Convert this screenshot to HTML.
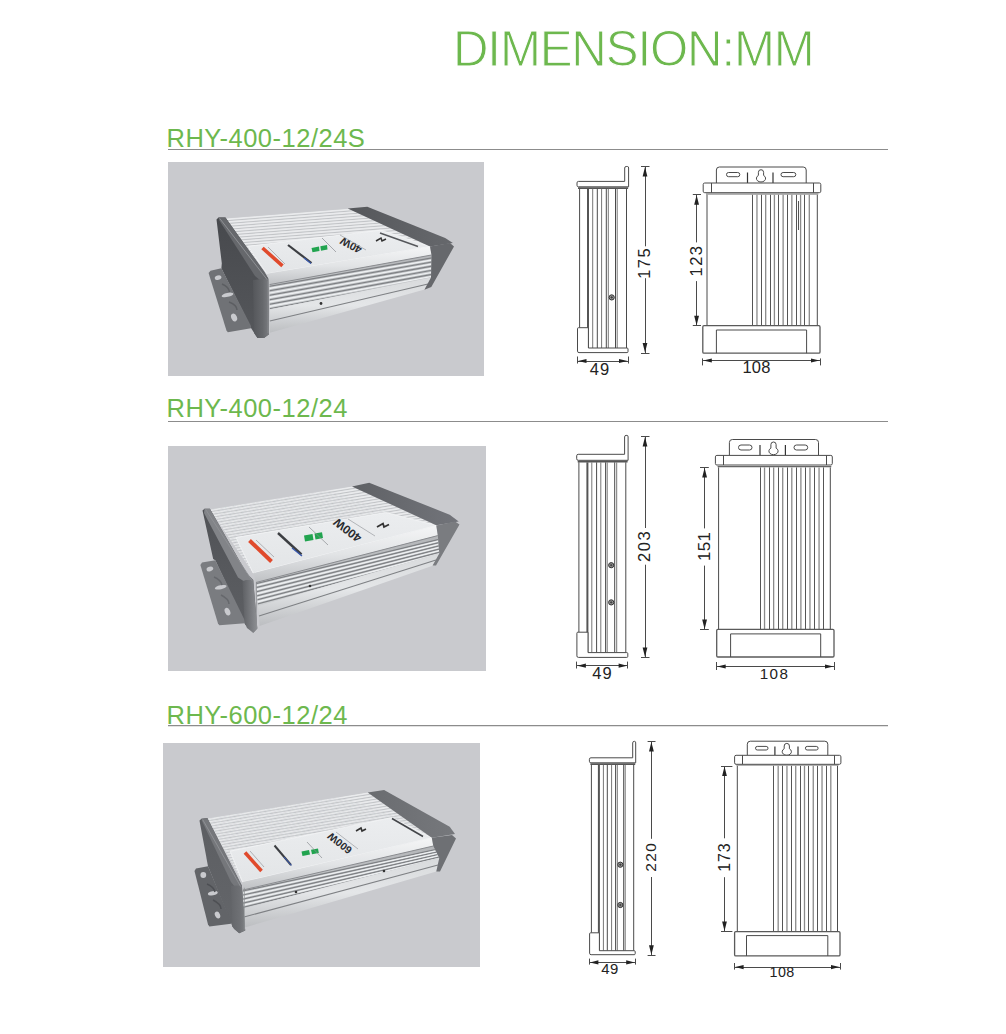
<!DOCTYPE html>
<html><head><meta charset="utf-8"><style>
html,body{margin:0;padding:0;background:#fff;}
body{width:1006px;height:1034px;overflow:hidden;position:relative;font-family:"Liberation Sans",sans-serif;}
svg{position:absolute;left:0;top:0;}
svg text{font-family:"Liberation Sans",sans-serif;}
</style></head><body>
<svg width="1006" height="1034" viewBox="0 0 1006 1034">
<text x="453" y="65.7" font-size="49.2" fill="#6db84e" stroke="#fff" stroke-width="1.0" letter-spacing="-1.15">DIMENSION:MM</text>
<text x="166.5" y="146.5" font-size="25.5" fill="#6db84e" letter-spacing="0.5">RHY-400-12/24S</text>
<line x1="168" y1="149.5" x2="888" y2="149.5" stroke="#8c8c8c" stroke-width="1.2"/>
<text x="166.5" y="417.3" font-size="25.5" fill="#6db84e" letter-spacing="0.5">RHY-400-12/24</text>
<line x1="168" y1="421.5" x2="888" y2="421.5" stroke="#8c8c8c" stroke-width="1.2"/>
<text x="166.5" y="723.6" font-size="25.5" fill="#6db84e" letter-spacing="0.5">RHY-600-12/24</text>
<line x1="168" y1="725.7" x2="888" y2="725.7" stroke="#8c8c8c" stroke-width="1.2"/>
<rect x="168" y="162" width="316" height="214" fill="#c9cace"/>
<rect x="168" y="446" width="318" height="225" fill="#c9cace"/>
<rect x="163" y="743" width="317" height="224" fill="#c9cace"/>
<g>
<polygon points="225.4,218.5 348.0,208.8 430.0,246.5 267.0,273.8" fill="#dfe1e3" />
<clipPath id="cp1"><polygon points="225.4,218.5 348.0,208.8 430.0,246.5 267.0,273.8"/></clipPath>
<g clip-path="url(#cp1)">
<line x1="205.4" y1="218.1" x2="468.0" y2="197.3" stroke="#eaebed" stroke-width="1.5"/>
<line x1="205.4" y1="219.5" x2="468.0" y2="198.8" stroke="#c2c4c7" stroke-width="1.0"/>
<line x1="205.4" y1="221.0" x2="468.0" y2="200.2" stroke="#eaebed" stroke-width="1.5"/>
<line x1="205.4" y1="222.4" x2="468.0" y2="201.7" stroke="#c2c4c7" stroke-width="1.0"/>
<line x1="205.4" y1="223.9" x2="468.0" y2="203.1" stroke="#eaebed" stroke-width="1.5"/>
<line x1="205.4" y1="225.3" x2="468.0" y2="204.6" stroke="#c2c4c7" stroke-width="1.0"/>
<line x1="205.4" y1="226.8" x2="468.0" y2="206.0" stroke="#eaebed" stroke-width="1.5"/>
<line x1="205.4" y1="228.2" x2="468.0" y2="207.5" stroke="#c2c4c7" stroke-width="1.0"/>
<line x1="205.4" y1="229.7" x2="468.0" y2="208.9" stroke="#eaebed" stroke-width="1.5"/>
<line x1="205.4" y1="231.1" x2="468.0" y2="210.4" stroke="#c2c4c7" stroke-width="1.0"/>
<line x1="205.4" y1="232.6" x2="468.0" y2="211.8" stroke="#eaebed" stroke-width="1.5"/>
<line x1="205.4" y1="234.0" x2="468.0" y2="213.3" stroke="#c2c4c7" stroke-width="1.0"/>
<line x1="205.4" y1="235.5" x2="468.0" y2="214.7" stroke="#eaebed" stroke-width="1.5"/>
<line x1="205.4" y1="236.9" x2="468.0" y2="216.2" stroke="#c2c4c7" stroke-width="1.0"/>
<line x1="205.4" y1="238.4" x2="468.0" y2="217.6" stroke="#eaebed" stroke-width="1.5"/>
<line x1="205.4" y1="239.8" x2="468.0" y2="219.1" stroke="#c2c4c7" stroke-width="1.0"/>
<line x1="205.4" y1="241.3" x2="468.0" y2="220.5" stroke="#eaebed" stroke-width="1.5"/>
<line x1="205.4" y1="242.7" x2="468.0" y2="222.0" stroke="#c2c4c7" stroke-width="1.0"/>
<line x1="205.4" y1="244.2" x2="468.0" y2="223.4" stroke="#eaebed" stroke-width="1.5"/>
<line x1="205.4" y1="245.6" x2="468.0" y2="224.9" stroke="#c2c4c7" stroke-width="1.0"/>
<line x1="205.4" y1="247.1" x2="468.0" y2="226.3" stroke="#eaebed" stroke-width="1.5"/>
<line x1="205.4" y1="248.5" x2="468.0" y2="227.8" stroke="#c2c4c7" stroke-width="1.0"/>
<line x1="205.4" y1="250.0" x2="468.0" y2="229.2" stroke="#eaebed" stroke-width="1.5"/>
<line x1="205.4" y1="251.4" x2="468.0" y2="230.7" stroke="#c2c4c7" stroke-width="1.0"/>
<line x1="205.4" y1="252.9" x2="468.0" y2="232.1" stroke="#eaebed" stroke-width="1.5"/>
<line x1="205.4" y1="254.3" x2="468.0" y2="233.6" stroke="#c2c4c7" stroke-width="1.0"/>
<line x1="205.4" y1="255.8" x2="468.0" y2="235.0" stroke="#eaebed" stroke-width="1.5"/>
<line x1="205.4" y1="257.2" x2="468.0" y2="236.5" stroke="#c2c4c7" stroke-width="1.0"/>
<line x1="205.4" y1="258.7" x2="468.0" y2="237.9" stroke="#eaebed" stroke-width="1.5"/>
<line x1="205.4" y1="260.1" x2="468.0" y2="239.4" stroke="#c2c4c7" stroke-width="1.0"/>
<line x1="205.4" y1="261.6" x2="468.0" y2="240.8" stroke="#eaebed" stroke-width="1.5"/>
<line x1="205.4" y1="263.0" x2="468.0" y2="242.3" stroke="#c2c4c7" stroke-width="1.0"/>
<line x1="205.4" y1="264.5" x2="468.0" y2="243.7" stroke="#eaebed" stroke-width="1.5"/>
<line x1="205.4" y1="265.9" x2="468.0" y2="245.2" stroke="#c2c4c7" stroke-width="1.0"/>
<line x1="205.4" y1="267.4" x2="468.0" y2="246.6" stroke="#eaebed" stroke-width="1.5"/>
<line x1="205.4" y1="268.8" x2="468.0" y2="248.1" stroke="#c2c4c7" stroke-width="1.0"/>
<line x1="205.4" y1="270.3" x2="468.0" y2="249.5" stroke="#eaebed" stroke-width="1.5"/>
<line x1="205.4" y1="271.7" x2="468.0" y2="251.0" stroke="#c2c4c7" stroke-width="1.0"/>
<line x1="205.4" y1="273.2" x2="468.0" y2="252.4" stroke="#eaebed" stroke-width="1.5"/>
<line x1="205.4" y1="274.6" x2="468.0" y2="253.9" stroke="#c2c4c7" stroke-width="1.0"/>
<line x1="205.4" y1="276.1" x2="468.0" y2="255.3" stroke="#eaebed" stroke-width="1.5"/>
<line x1="205.4" y1="277.5" x2="468.0" y2="256.8" stroke="#c2c4c7" stroke-width="1.0"/>
<line x1="205.4" y1="279.0" x2="468.0" y2="258.2" stroke="#eaebed" stroke-width="1.5"/>
<line x1="205.4" y1="280.4" x2="468.0" y2="259.7" stroke="#c2c4c7" stroke-width="1.0"/>
<line x1="205.4" y1="281.9" x2="468.0" y2="261.1" stroke="#eaebed" stroke-width="1.5"/>
<line x1="205.4" y1="283.3" x2="468.0" y2="262.6" stroke="#c2c4c7" stroke-width="1.0"/>
<line x1="205.4" y1="284.8" x2="468.0" y2="264.0" stroke="#eaebed" stroke-width="1.5"/>
<line x1="205.4" y1="286.2" x2="468.0" y2="265.5" stroke="#c2c4c7" stroke-width="1.0"/>
<line x1="205.4" y1="287.7" x2="468.0" y2="266.9" stroke="#eaebed" stroke-width="1.5"/>
<line x1="205.4" y1="289.1" x2="468.0" y2="268.4" stroke="#c2c4c7" stroke-width="1.0"/>
<line x1="205.4" y1="290.6" x2="468.0" y2="269.8" stroke="#eaebed" stroke-width="1.5"/>
<line x1="205.4" y1="292.0" x2="468.0" y2="271.3" stroke="#c2c4c7" stroke-width="1.0"/>
<line x1="205.4" y1="293.5" x2="468.0" y2="272.7" stroke="#eaebed" stroke-width="1.5"/>
<line x1="205.4" y1="294.9" x2="468.0" y2="274.2" stroke="#c2c4c7" stroke-width="1.0"/>
<line x1="205.4" y1="296.4" x2="468.0" y2="275.6" stroke="#eaebed" stroke-width="1.5"/>
<line x1="205.4" y1="297.8" x2="468.0" y2="277.1" stroke="#c2c4c7" stroke-width="1.0"/>
<line x1="205.4" y1="299.3" x2="468.0" y2="278.5" stroke="#eaebed" stroke-width="1.5"/>
<line x1="205.4" y1="300.7" x2="468.0" y2="280.0" stroke="#c2c4c7" stroke-width="1.0"/>
<line x1="205.4" y1="302.2" x2="468.0" y2="281.4" stroke="#eaebed" stroke-width="1.5"/>
<line x1="205.4" y1="303.6" x2="468.0" y2="282.9" stroke="#c2c4c7" stroke-width="1.0"/>
<line x1="205.4" y1="305.1" x2="468.0" y2="284.3" stroke="#eaebed" stroke-width="1.5"/>
<line x1="205.4" y1="306.5" x2="468.0" y2="285.8" stroke="#c2c4c7" stroke-width="1.0"/>
<line x1="205.4" y1="308.0" x2="468.0" y2="287.2" stroke="#eaebed" stroke-width="1.5"/>
<line x1="205.4" y1="309.4" x2="468.0" y2="288.7" stroke="#c2c4c7" stroke-width="1.0"/>
<line x1="205.4" y1="310.9" x2="468.0" y2="290.1" stroke="#eaebed" stroke-width="1.5"/>
<line x1="205.4" y1="312.3" x2="468.0" y2="291.6" stroke="#c2c4c7" stroke-width="1.0"/>
<line x1="205.4" y1="313.8" x2="468.0" y2="293.0" stroke="#eaebed" stroke-width="1.5"/>
<line x1="205.4" y1="315.2" x2="468.0" y2="294.5" stroke="#c2c4c7" stroke-width="1.0"/>
<line x1="205.4" y1="316.7" x2="468.0" y2="295.9" stroke="#eaebed" stroke-width="1.5"/>
<line x1="205.4" y1="318.1" x2="468.0" y2="297.4" stroke="#c2c4c7" stroke-width="1.0"/>
<line x1="205.4" y1="319.6" x2="468.0" y2="298.8" stroke="#eaebed" stroke-width="1.5"/>
<line x1="205.4" y1="321.0" x2="468.0" y2="300.3" stroke="#c2c4c7" stroke-width="1.0"/>
<line x1="205.4" y1="322.5" x2="468.0" y2="301.7" stroke="#eaebed" stroke-width="1.5"/>
<line x1="205.4" y1="323.9" x2="468.0" y2="303.2" stroke="#c2c4c7" stroke-width="1.0"/>
<line x1="205.4" y1="325.4" x2="468.0" y2="304.6" stroke="#eaebed" stroke-width="1.5"/>
<line x1="205.4" y1="326.8" x2="468.0" y2="306.1" stroke="#c2c4c7" stroke-width="1.0"/>
<line x1="205.4" y1="328.3" x2="468.0" y2="307.5" stroke="#eaebed" stroke-width="1.5"/>
<line x1="205.4" y1="329.7" x2="468.0" y2="309.0" stroke="#c2c4c7" stroke-width="1.0"/>
<line x1="205.4" y1="331.2" x2="468.0" y2="310.4" stroke="#eaebed" stroke-width="1.5"/>
</g>
<linearGradient id="g2" x1="0" y1="0" x2="0" y2="1"><stop offset="0" stop-color="#ebedef"/><stop offset="1" stop-color="#e3e5e7"/></linearGradient>
<polygon points="248.0,246.3 381.0,230.2 430.0,246.5 267.0,273.8" fill="url(#g2)" stroke="#f4f5f6" stroke-width="0.8"/>
<linearGradient id="g3" x1="0" y1="0" x2="1" y2="0"><stop offset="0" stop-color="#55575b"/><stop offset="1" stop-color="#66686c"/></linearGradient>
<polygon points="347.8,208.5 367.3,206.8 445.2,238.1 452.9,243.0 430.0,246.5" fill="url(#g3)" />
<linearGradient id="g4" x1="0" y1="0" x2="0" y2="1"><stop offset="0" stop-color="#f4f5f6"/><stop offset="0.5" stop-color="#e2e4e6"/><stop offset="1" stop-color="#bfc1c4"/></linearGradient>
<polygon points="267.0,273.8 430.0,246.5 431.5,255.0 269.5,284.6" fill="url(#g4)" />
<linearGradient id="g5" x1="0" y1="0" x2="0" y2="1"><stop offset="0" stop-color="#b4b6b9"/><stop offset="1" stop-color="#cdd0d2"/></linearGradient>
<polygon points="269.5,284.6 431.5,255.0 431.0,277.5 269.8,309.5" fill="url(#g5)" />
<clipPath id="cp6"><polygon points="269.5,284.6 431.5,255.0 431.0,277.5 269.8,309.5"/></clipPath>
<g clip-path="url(#cp6)">
<line x1="265.0" y1="287.0" x2="440.0" y2="256.5" stroke="#7e8084" stroke-width="1.2"/>
<line x1="265.0" y1="289.2" x2="440.0" y2="258.6" stroke="#eef0f2" stroke-width="1.4"/>
<line x1="265.0" y1="291.5" x2="440.0" y2="260.6" stroke="#7e8084" stroke-width="1.2"/>
<line x1="265.0" y1="293.8" x2="440.0" y2="262.6" stroke="#eef0f2" stroke-width="1.4"/>
<line x1="265.0" y1="296.0" x2="440.0" y2="264.7" stroke="#7e8084" stroke-width="1.2"/>
<line x1="265.0" y1="298.2" x2="440.0" y2="266.8" stroke="#eef0f2" stroke-width="1.4"/>
<line x1="265.0" y1="300.5" x2="440.0" y2="268.8" stroke="#7e8084" stroke-width="1.2"/>
<line x1="265.0" y1="302.8" x2="440.0" y2="270.9" stroke="#eef0f2" stroke-width="1.4"/>
<line x1="265.0" y1="305.0" x2="440.0" y2="272.9" stroke="#7e8084" stroke-width="1.2"/>
<line x1="265.0" y1="307.2" x2="440.0" y2="274.9" stroke="#eef0f2" stroke-width="1.4"/>
<line x1="265.0" y1="309.5" x2="440.0" y2="277.0" stroke="#7e8084" stroke-width="1.2"/>
</g>
<line x1="269.5" y1="284.6" x2="431.5" y2="255" stroke="#8a8c90" stroke-width="1"/>
<linearGradient id="g7" x1="0" y1="0" x2="0" y2="1"><stop offset="0" stop-color="#d8dadc"/><stop offset="0.5" stop-color="#e4e6e8"/><stop offset="1" stop-color="#bcbec1"/></linearGradient>
<polygon points="269.8,309.5 431.0,277.5 424.6,289.5 269.8,332.8" fill="url(#g7)" />
<line x1="269.8" y1="321" x2="428" y2="284" stroke="#7e8084" stroke-width="1.1"/>
<polygon points="430.0,246.5 450.0,243.0 454.0,246.5 431.3,287.0 424.4,289.8 431.0,277.5 431.5,255.0" fill="#66686c" />
<linearGradient id="g8" x1="0" y1="0" x2="0" y2="1"><stop offset="0" stop-color="#47494d"/><stop offset="1" stop-color="#55575b"/></linearGradient>
<polygon points="216.5,219.5 218.5,217.6 225.4,217.6 264.0,271.5 268.3,278.8 269.0,334.3 264.0,338.0 257.5,338.0 251.0,328.0 221.4,268.2 221.8,263.2" fill="url(#g8)" />
<polygon points="208.6,273.1 210.5,270.8 221.4,268.2 251.0,326.0 251.0,328.2 227.8,332.3 226.5,330.5" fill="#707276" />
<ellipse cx="218.1" cy="277.7" rx="3.4" ry="2.2" transform="rotate(-15 218.1 277.7)" fill="#c9cace"/>
<ellipse cx="227.5" cy="294.9" rx="6" ry="2" transform="rotate(-12 227.5 294.9)" fill="#c9cace"/>
<ellipse cx="234.1" cy="317.5" rx="2.8" ry="4" transform="rotate(-25 234.1 317.5)" fill="#c9cace"/>
<path d="M222 284 Q229 287 229.5 292" stroke="#5c5e62" stroke-width="1.5" fill="none"/>
<path d="M229 302 Q237 305 237 310" stroke="#5c5e62" stroke-width="1.5" fill="none"/>
<polygon points="218.5,217.6 225.4,217.6 264.0,271.5 268.3,278.8 261.0,281.0 255.0,276.0 219.0,220.0" fill="#66686c" />
<linearGradient id="g9" x1="0" y1="0" x2="1" y2="0"><stop offset="0" stop-color="#55575b"/><stop offset="0.6" stop-color="#66686c"/><stop offset="1" stop-color="#7a7c80"/></linearGradient>
<polygon points="253.0,280.0 261.0,279.0 268.3,278.8 269.0,334.3 264.0,338.0 257.5,338.0 254.0,333.0" fill="url(#g9)" />
<polyline points="219.7,218.4 267.1,279.6" stroke="#8e9094" stroke-width="1" fill="none"/>
<line x1="268.1" y1="280.8" x2="268.1" y2="333.3" stroke="#8e9094" stroke-width="0.8"/>
<line x1="262.5" y1="248" x2="282.5" y2="265.8" stroke="#e04a2c" stroke-width="3.6"/>
<line x1="268" y1="247" x2="285" y2="264" stroke="#8a8c90" stroke-width="0.6"/>
<line x1="288" y1="245" x2="311.5" y2="263" stroke="#3c3e42" stroke-width="2.2"/>
<line x1="304" y1="258" x2="311" y2="263.5" stroke="#3a5ab0" stroke-width="1.2"/>
<polygon points="311.5,248 319,246.5 319.5,251 312.5,252.2" fill="#21a44f"/>
<polygon points="320.3,246.3 327,245 327.5,249.5 321,250.8" fill="#21a44f"/>
<line x1="322" y1="238" x2="336" y2="252" stroke="#8a8c90" stroke-width="0.7"/>
<text x="0" y="0" transform="translate(351 245.5) rotate(208)" text-anchor="middle" dominant-baseline="central" font-size="11" font-weight="bold" fill="#2a2c30">40W</text>
<line x1="340" y1="235" x2="366" y2="250" stroke="#9a9ca0" stroke-width="0.7"/>
<path d="M376 241 l5 -3 l1 3 l4 -2" stroke="#333" stroke-width="1.5" fill="none"/>
<line x1="380" y1="233" x2="418" y2="246.5" stroke="#55575b" stroke-width="1.4"/>
<circle cx="321" cy="303.5" r="1.4" fill="#333"/>
</g>
<g>
<polygon points="209.9,509.5 352.0,486.4 436.3,525.5 253.2,573.1" fill="#dfe1e3" />
<clipPath id="cp10"><polygon points="209.9,509.5 352.0,486.4 436.3,525.5 253.2,573.1"/></clipPath>
<g clip-path="url(#cp10)">
<line x1="189.9" y1="510.8" x2="472.0" y2="464.9" stroke="#eaebed" stroke-width="1.5"/>
<line x1="189.9" y1="512.2" x2="472.0" y2="466.3" stroke="#c2c4c7" stroke-width="1.0"/>
<line x1="189.9" y1="513.7" x2="472.0" y2="467.8" stroke="#eaebed" stroke-width="1.5"/>
<line x1="189.9" y1="515.1" x2="472.0" y2="469.2" stroke="#c2c4c7" stroke-width="1.0"/>
<line x1="189.9" y1="516.6" x2="472.0" y2="470.7" stroke="#eaebed" stroke-width="1.5"/>
<line x1="189.9" y1="518.0" x2="472.0" y2="472.1" stroke="#c2c4c7" stroke-width="1.0"/>
<line x1="189.9" y1="519.5" x2="472.0" y2="473.6" stroke="#eaebed" stroke-width="1.5"/>
<line x1="189.9" y1="520.9" x2="472.0" y2="475.0" stroke="#c2c4c7" stroke-width="1.0"/>
<line x1="189.9" y1="522.4" x2="472.0" y2="476.5" stroke="#eaebed" stroke-width="1.5"/>
<line x1="189.9" y1="523.8" x2="472.0" y2="477.9" stroke="#c2c4c7" stroke-width="1.0"/>
<line x1="189.9" y1="525.3" x2="472.0" y2="479.4" stroke="#eaebed" stroke-width="1.5"/>
<line x1="189.9" y1="526.7" x2="472.0" y2="480.8" stroke="#c2c4c7" stroke-width="1.0"/>
<line x1="189.9" y1="528.2" x2="472.0" y2="482.3" stroke="#eaebed" stroke-width="1.5"/>
<line x1="189.9" y1="529.6" x2="472.0" y2="483.7" stroke="#c2c4c7" stroke-width="1.0"/>
<line x1="189.9" y1="531.1" x2="472.0" y2="485.2" stroke="#eaebed" stroke-width="1.5"/>
<line x1="189.9" y1="532.5" x2="472.0" y2="486.6" stroke="#c2c4c7" stroke-width="1.0"/>
<line x1="189.9" y1="534.0" x2="472.0" y2="488.1" stroke="#eaebed" stroke-width="1.5"/>
<line x1="189.9" y1="535.4" x2="472.0" y2="489.5" stroke="#c2c4c7" stroke-width="1.0"/>
<line x1="189.9" y1="536.9" x2="472.0" y2="491.0" stroke="#eaebed" stroke-width="1.5"/>
<line x1="189.9" y1="538.3" x2="472.0" y2="492.4" stroke="#c2c4c7" stroke-width="1.0"/>
<line x1="189.9" y1="539.8" x2="472.0" y2="493.9" stroke="#eaebed" stroke-width="1.5"/>
<line x1="189.9" y1="541.2" x2="472.0" y2="495.3" stroke="#c2c4c7" stroke-width="1.0"/>
<line x1="189.9" y1="542.7" x2="472.0" y2="496.8" stroke="#eaebed" stroke-width="1.5"/>
<line x1="189.9" y1="544.1" x2="472.0" y2="498.2" stroke="#c2c4c7" stroke-width="1.0"/>
<line x1="189.9" y1="545.6" x2="472.0" y2="499.7" stroke="#eaebed" stroke-width="1.5"/>
<line x1="189.9" y1="547.0" x2="472.0" y2="501.1" stroke="#c2c4c7" stroke-width="1.0"/>
<line x1="189.9" y1="548.5" x2="472.0" y2="502.6" stroke="#eaebed" stroke-width="1.5"/>
<line x1="189.9" y1="549.9" x2="472.0" y2="504.0" stroke="#c2c4c7" stroke-width="1.0"/>
<line x1="189.9" y1="551.4" x2="472.0" y2="505.5" stroke="#eaebed" stroke-width="1.5"/>
<line x1="189.9" y1="552.8" x2="472.0" y2="506.9" stroke="#c2c4c7" stroke-width="1.0"/>
<line x1="189.9" y1="554.3" x2="472.0" y2="508.4" stroke="#eaebed" stroke-width="1.5"/>
<line x1="189.9" y1="555.7" x2="472.0" y2="509.8" stroke="#c2c4c7" stroke-width="1.0"/>
<line x1="189.9" y1="557.2" x2="472.0" y2="511.3" stroke="#eaebed" stroke-width="1.5"/>
<line x1="189.9" y1="558.6" x2="472.0" y2="512.7" stroke="#c2c4c7" stroke-width="1.0"/>
<line x1="189.9" y1="560.1" x2="472.0" y2="514.2" stroke="#eaebed" stroke-width="1.5"/>
<line x1="189.9" y1="561.5" x2="472.0" y2="515.6" stroke="#c2c4c7" stroke-width="1.0"/>
<line x1="189.9" y1="563.0" x2="472.0" y2="517.1" stroke="#eaebed" stroke-width="1.5"/>
<line x1="189.9" y1="564.4" x2="472.0" y2="518.5" stroke="#c2c4c7" stroke-width="1.0"/>
<line x1="189.9" y1="565.9" x2="472.0" y2="520.0" stroke="#eaebed" stroke-width="1.5"/>
<line x1="189.9" y1="567.3" x2="472.0" y2="521.4" stroke="#c2c4c7" stroke-width="1.0"/>
<line x1="189.9" y1="568.8" x2="472.0" y2="522.9" stroke="#eaebed" stroke-width="1.5"/>
<line x1="189.9" y1="570.2" x2="472.0" y2="524.3" stroke="#c2c4c7" stroke-width="1.0"/>
<line x1="189.9" y1="571.7" x2="472.0" y2="525.8" stroke="#eaebed" stroke-width="1.5"/>
<line x1="189.9" y1="573.1" x2="472.0" y2="527.2" stroke="#c2c4c7" stroke-width="1.0"/>
<line x1="189.9" y1="574.6" x2="472.0" y2="528.7" stroke="#eaebed" stroke-width="1.5"/>
<line x1="189.9" y1="576.0" x2="472.0" y2="530.1" stroke="#c2c4c7" stroke-width="1.0"/>
<line x1="189.9" y1="577.5" x2="472.0" y2="531.6" stroke="#eaebed" stroke-width="1.5"/>
<line x1="189.9" y1="578.9" x2="472.0" y2="533.0" stroke="#c2c4c7" stroke-width="1.0"/>
<line x1="189.9" y1="580.4" x2="472.0" y2="534.5" stroke="#eaebed" stroke-width="1.5"/>
<line x1="189.9" y1="581.8" x2="472.0" y2="535.9" stroke="#c2c4c7" stroke-width="1.0"/>
<line x1="189.9" y1="583.3" x2="472.0" y2="537.4" stroke="#eaebed" stroke-width="1.5"/>
<line x1="189.9" y1="584.7" x2="472.0" y2="538.8" stroke="#c2c4c7" stroke-width="1.0"/>
<line x1="189.9" y1="586.2" x2="472.0" y2="540.3" stroke="#eaebed" stroke-width="1.5"/>
<line x1="189.9" y1="587.6" x2="472.0" y2="541.7" stroke="#c2c4c7" stroke-width="1.0"/>
<line x1="189.9" y1="589.1" x2="472.0" y2="543.2" stroke="#eaebed" stroke-width="1.5"/>
<line x1="189.9" y1="590.5" x2="472.0" y2="544.6" stroke="#c2c4c7" stroke-width="1.0"/>
<line x1="189.9" y1="592.0" x2="472.0" y2="546.1" stroke="#eaebed" stroke-width="1.5"/>
<line x1="189.9" y1="593.4" x2="472.0" y2="547.5" stroke="#c2c4c7" stroke-width="1.0"/>
<line x1="189.9" y1="594.9" x2="472.0" y2="549.0" stroke="#eaebed" stroke-width="1.5"/>
<line x1="189.9" y1="596.3" x2="472.0" y2="550.4" stroke="#c2c4c7" stroke-width="1.0"/>
<line x1="189.9" y1="597.8" x2="472.0" y2="551.9" stroke="#eaebed" stroke-width="1.5"/>
<line x1="189.9" y1="599.2" x2="472.0" y2="553.3" stroke="#c2c4c7" stroke-width="1.0"/>
<line x1="189.9" y1="600.7" x2="472.0" y2="554.8" stroke="#eaebed" stroke-width="1.5"/>
<line x1="189.9" y1="602.1" x2="472.0" y2="556.2" stroke="#c2c4c7" stroke-width="1.0"/>
<line x1="189.9" y1="603.6" x2="472.0" y2="557.7" stroke="#eaebed" stroke-width="1.5"/>
<line x1="189.9" y1="605.0" x2="472.0" y2="559.1" stroke="#c2c4c7" stroke-width="1.0"/>
<line x1="189.9" y1="606.5" x2="472.0" y2="560.6" stroke="#eaebed" stroke-width="1.5"/>
<line x1="189.9" y1="607.9" x2="472.0" y2="562.0" stroke="#c2c4c7" stroke-width="1.0"/>
<line x1="189.9" y1="609.4" x2="472.0" y2="563.5" stroke="#eaebed" stroke-width="1.5"/>
<line x1="189.9" y1="610.8" x2="472.0" y2="564.9" stroke="#c2c4c7" stroke-width="1.0"/>
<line x1="189.9" y1="612.3" x2="472.0" y2="566.4" stroke="#eaebed" stroke-width="1.5"/>
<line x1="189.9" y1="613.7" x2="472.0" y2="567.8" stroke="#c2c4c7" stroke-width="1.0"/>
<line x1="189.9" y1="615.2" x2="472.0" y2="569.3" stroke="#eaebed" stroke-width="1.5"/>
<line x1="189.9" y1="616.6" x2="472.0" y2="570.7" stroke="#c2c4c7" stroke-width="1.0"/>
<line x1="189.9" y1="618.1" x2="472.0" y2="572.2" stroke="#eaebed" stroke-width="1.5"/>
<line x1="189.9" y1="619.5" x2="472.0" y2="573.6" stroke="#c2c4c7" stroke-width="1.0"/>
<line x1="189.9" y1="621.0" x2="472.0" y2="575.1" stroke="#eaebed" stroke-width="1.5"/>
<line x1="189.9" y1="622.4" x2="472.0" y2="576.5" stroke="#c2c4c7" stroke-width="1.0"/>
<line x1="189.9" y1="623.9" x2="472.0" y2="578.0" stroke="#eaebed" stroke-width="1.5"/>
<line x1="189.9" y1="625.3" x2="472.0" y2="579.4" stroke="#c2c4c7" stroke-width="1.0"/>
<line x1="189.9" y1="626.8" x2="472.0" y2="580.9" stroke="#eaebed" stroke-width="1.5"/>
<line x1="189.9" y1="628.2" x2="472.0" y2="582.3" stroke="#c2c4c7" stroke-width="1.0"/>
<line x1="189.9" y1="629.7" x2="472.0" y2="583.8" stroke="#eaebed" stroke-width="1.5"/>
<line x1="189.9" y1="631.1" x2="472.0" y2="585.2" stroke="#c2c4c7" stroke-width="1.0"/>
<line x1="189.9" y1="632.6" x2="472.0" y2="586.7" stroke="#eaebed" stroke-width="1.5"/>
<line x1="189.9" y1="442.5" x2="472.0" y2="541.2" stroke="#d6d8da" stroke-width="0.8" opacity="0.7"/>
<line x1="189.9" y1="444.5" x2="472.0" y2="543.3" stroke="#d6d8da" stroke-width="0.8" opacity="0.7"/>
<line x1="189.9" y1="446.6" x2="472.0" y2="545.3" stroke="#d6d8da" stroke-width="0.8" opacity="0.7"/>
<line x1="189.9" y1="448.6" x2="472.0" y2="547.3" stroke="#d6d8da" stroke-width="0.8" opacity="0.7"/>
<line x1="189.9" y1="450.6" x2="472.0" y2="549.4" stroke="#d6d8da" stroke-width="0.8" opacity="0.7"/>
<line x1="189.9" y1="452.6" x2="472.0" y2="551.4" stroke="#d6d8da" stroke-width="0.8" opacity="0.7"/>
<line x1="189.9" y1="454.7" x2="472.0" y2="553.4" stroke="#d6d8da" stroke-width="0.8" opacity="0.7"/>
<line x1="189.9" y1="456.7" x2="472.0" y2="555.4" stroke="#d6d8da" stroke-width="0.8" opacity="0.7"/>
<line x1="189.9" y1="458.7" x2="472.0" y2="557.5" stroke="#d6d8da" stroke-width="0.8" opacity="0.7"/>
<line x1="189.9" y1="460.8" x2="472.0" y2="559.5" stroke="#d6d8da" stroke-width="0.8" opacity="0.7"/>
<line x1="189.9" y1="462.8" x2="472.0" y2="561.5" stroke="#d6d8da" stroke-width="0.8" opacity="0.7"/>
<line x1="189.9" y1="464.8" x2="472.0" y2="563.6" stroke="#d6d8da" stroke-width="0.8" opacity="0.7"/>
<line x1="189.9" y1="466.9" x2="472.0" y2="565.6" stroke="#d6d8da" stroke-width="0.8" opacity="0.7"/>
<line x1="189.9" y1="468.9" x2="472.0" y2="567.6" stroke="#d6d8da" stroke-width="0.8" opacity="0.7"/>
<line x1="189.9" y1="470.9" x2="472.0" y2="569.7" stroke="#d6d8da" stroke-width="0.8" opacity="0.7"/>
<line x1="189.9" y1="472.9" x2="472.0" y2="571.7" stroke="#d6d8da" stroke-width="0.8" opacity="0.7"/>
<line x1="189.9" y1="475.0" x2="472.0" y2="573.7" stroke="#d6d8da" stroke-width="0.8" opacity="0.7"/>
<line x1="189.9" y1="477.0" x2="472.0" y2="575.7" stroke="#d6d8da" stroke-width="0.8" opacity="0.7"/>
<line x1="189.9" y1="479.0" x2="472.0" y2="577.8" stroke="#d6d8da" stroke-width="0.8" opacity="0.7"/>
<line x1="189.9" y1="481.1" x2="472.0" y2="579.8" stroke="#d6d8da" stroke-width="0.8" opacity="0.7"/>
<line x1="189.9" y1="483.1" x2="472.0" y2="581.8" stroke="#d6d8da" stroke-width="0.8" opacity="0.7"/>
<line x1="189.9" y1="485.1" x2="472.0" y2="583.9" stroke="#d6d8da" stroke-width="0.8" opacity="0.7"/>
<line x1="189.9" y1="487.2" x2="472.0" y2="585.9" stroke="#d6d8da" stroke-width="0.8" opacity="0.7"/>
<line x1="189.9" y1="489.2" x2="472.0" y2="587.9" stroke="#d6d8da" stroke-width="0.8" opacity="0.7"/>
<line x1="189.9" y1="491.2" x2="472.0" y2="590.0" stroke="#d6d8da" stroke-width="0.8" opacity="0.7"/>
<line x1="189.9" y1="493.2" x2="472.0" y2="592.0" stroke="#d6d8da" stroke-width="0.8" opacity="0.7"/>
<line x1="189.9" y1="495.3" x2="472.0" y2="594.0" stroke="#d6d8da" stroke-width="0.8" opacity="0.7"/>
<line x1="189.9" y1="497.3" x2="472.0" y2="596.0" stroke="#d6d8da" stroke-width="0.8" opacity="0.7"/>
<line x1="189.9" y1="499.3" x2="472.0" y2="598.1" stroke="#d6d8da" stroke-width="0.8" opacity="0.7"/>
<line x1="189.9" y1="501.4" x2="472.0" y2="600.1" stroke="#d6d8da" stroke-width="0.8" opacity="0.7"/>
<line x1="189.9" y1="503.4" x2="472.0" y2="602.1" stroke="#d6d8da" stroke-width="0.8" opacity="0.7"/>
<line x1="189.9" y1="505.4" x2="472.0" y2="604.2" stroke="#d6d8da" stroke-width="0.8" opacity="0.7"/>
<line x1="189.9" y1="507.5" x2="472.0" y2="606.2" stroke="#d6d8da" stroke-width="0.8" opacity="0.7"/>
<line x1="189.9" y1="509.5" x2="472.0" y2="608.2" stroke="#d6d8da" stroke-width="0.8" opacity="0.7"/>
<line x1="189.9" y1="511.5" x2="472.0" y2="610.3" stroke="#d6d8da" stroke-width="0.8" opacity="0.7"/>
<line x1="189.9" y1="513.5" x2="472.0" y2="612.3" stroke="#d6d8da" stroke-width="0.8" opacity="0.7"/>
<line x1="189.9" y1="515.6" x2="472.0" y2="614.3" stroke="#d6d8da" stroke-width="0.8" opacity="0.7"/>
<line x1="189.9" y1="517.6" x2="472.0" y2="616.3" stroke="#d6d8da" stroke-width="0.8" opacity="0.7"/>
<line x1="189.9" y1="519.6" x2="472.0" y2="618.4" stroke="#d6d8da" stroke-width="0.8" opacity="0.7"/>
<line x1="189.9" y1="521.7" x2="472.0" y2="620.4" stroke="#d6d8da" stroke-width="0.8" opacity="0.7"/>
<line x1="189.9" y1="523.7" x2="472.0" y2="622.4" stroke="#d6d8da" stroke-width="0.8" opacity="0.7"/>
<line x1="189.9" y1="525.7" x2="472.0" y2="624.5" stroke="#d6d8da" stroke-width="0.8" opacity="0.7"/>
<line x1="189.9" y1="527.8" x2="472.0" y2="626.5" stroke="#d6d8da" stroke-width="0.8" opacity="0.7"/>
<line x1="189.9" y1="529.8" x2="472.0" y2="628.5" stroke="#d6d8da" stroke-width="0.8" opacity="0.7"/>
<line x1="189.9" y1="531.8" x2="472.0" y2="630.6" stroke="#d6d8da" stroke-width="0.8" opacity="0.7"/>
<line x1="189.9" y1="533.9" x2="472.0" y2="632.6" stroke="#d6d8da" stroke-width="0.8" opacity="0.7"/>
<line x1="189.9" y1="535.9" x2="472.0" y2="634.6" stroke="#d6d8da" stroke-width="0.8" opacity="0.7"/>
<line x1="189.9" y1="537.9" x2="472.0" y2="636.6" stroke="#d6d8da" stroke-width="0.8" opacity="0.7"/>
<line x1="189.9" y1="539.9" x2="472.0" y2="638.7" stroke="#d6d8da" stroke-width="0.8" opacity="0.7"/>
<line x1="189.9" y1="542.0" x2="472.0" y2="640.7" stroke="#d6d8da" stroke-width="0.8" opacity="0.7"/>
<line x1="189.9" y1="544.0" x2="472.0" y2="642.7" stroke="#d6d8da" stroke-width="0.8" opacity="0.7"/>
<line x1="189.9" y1="546.0" x2="472.0" y2="644.8" stroke="#d6d8da" stroke-width="0.8" opacity="0.7"/>
<line x1="189.9" y1="548.1" x2="472.0" y2="646.8" stroke="#d6d8da" stroke-width="0.8" opacity="0.7"/>
<line x1="189.9" y1="550.1" x2="472.0" y2="648.8" stroke="#d6d8da" stroke-width="0.8" opacity="0.7"/>
<line x1="189.9" y1="552.1" x2="472.0" y2="650.9" stroke="#d6d8da" stroke-width="0.8" opacity="0.7"/>
<line x1="189.9" y1="554.1" x2="472.0" y2="652.9" stroke="#d6d8da" stroke-width="0.8" opacity="0.7"/>
<line x1="189.9" y1="556.2" x2="472.0" y2="654.9" stroke="#d6d8da" stroke-width="0.8" opacity="0.7"/>
<line x1="189.9" y1="558.2" x2="472.0" y2="656.9" stroke="#d6d8da" stroke-width="0.8" opacity="0.7"/>
<line x1="189.9" y1="560.2" x2="472.0" y2="659.0" stroke="#d6d8da" stroke-width="0.8" opacity="0.7"/>
<line x1="189.9" y1="562.3" x2="472.0" y2="661.0" stroke="#d6d8da" stroke-width="0.8" opacity="0.7"/>
<line x1="189.9" y1="564.3" x2="472.0" y2="663.0" stroke="#d6d8da" stroke-width="0.8" opacity="0.7"/>
<line x1="189.9" y1="566.3" x2="472.0" y2="665.1" stroke="#d6d8da" stroke-width="0.8" opacity="0.7"/>
<line x1="189.9" y1="568.4" x2="472.0" y2="667.1" stroke="#d6d8da" stroke-width="0.8" opacity="0.7"/>
<line x1="189.9" y1="570.4" x2="472.0" y2="669.1" stroke="#d6d8da" stroke-width="0.8" opacity="0.7"/>
<line x1="189.9" y1="572.4" x2="472.0" y2="671.2" stroke="#d6d8da" stroke-width="0.8" opacity="0.7"/>
<line x1="189.9" y1="574.5" x2="472.0" y2="673.2" stroke="#d6d8da" stroke-width="0.8" opacity="0.7"/>
<line x1="189.9" y1="576.5" x2="472.0" y2="675.2" stroke="#d6d8da" stroke-width="0.8" opacity="0.7"/>
<line x1="189.9" y1="578.5" x2="472.0" y2="677.2" stroke="#d6d8da" stroke-width="0.8" opacity="0.7"/>
<line x1="189.9" y1="580.5" x2="472.0" y2="679.3" stroke="#d6d8da" stroke-width="0.8" opacity="0.7"/>
<line x1="189.9" y1="582.6" x2="472.0" y2="681.3" stroke="#d6d8da" stroke-width="0.8" opacity="0.7"/>
<line x1="189.9" y1="584.6" x2="472.0" y2="683.3" stroke="#d6d8da" stroke-width="0.8" opacity="0.7"/>
<line x1="189.9" y1="586.6" x2="472.0" y2="685.4" stroke="#d6d8da" stroke-width="0.8" opacity="0.7"/>
<line x1="189.9" y1="588.7" x2="472.0" y2="687.4" stroke="#d6d8da" stroke-width="0.8" opacity="0.7"/>
<line x1="189.9" y1="590.7" x2="472.0" y2="689.4" stroke="#d6d8da" stroke-width="0.8" opacity="0.7"/>
<line x1="189.9" y1="592.7" x2="472.0" y2="691.5" stroke="#d6d8da" stroke-width="0.8" opacity="0.7"/>
<line x1="189.9" y1="594.8" x2="472.0" y2="693.5" stroke="#d6d8da" stroke-width="0.8" opacity="0.7"/>
<line x1="189.9" y1="596.8" x2="472.0" y2="695.5" stroke="#d6d8da" stroke-width="0.8" opacity="0.7"/>
<line x1="189.9" y1="598.8" x2="472.0" y2="697.5" stroke="#d6d8da" stroke-width="0.8" opacity="0.7"/>
<line x1="189.9" y1="600.8" x2="472.0" y2="699.6" stroke="#d6d8da" stroke-width="0.8" opacity="0.7"/>
<line x1="189.9" y1="602.9" x2="472.0" y2="701.6" stroke="#d6d8da" stroke-width="0.8" opacity="0.7"/>
<line x1="189.9" y1="604.9" x2="472.0" y2="703.6" stroke="#d6d8da" stroke-width="0.8" opacity="0.7"/>
<line x1="189.9" y1="606.9" x2="472.0" y2="705.7" stroke="#d6d8da" stroke-width="0.8" opacity="0.7"/>
<line x1="189.9" y1="609.0" x2="472.0" y2="707.7" stroke="#d6d8da" stroke-width="0.8" opacity="0.7"/>
<line x1="189.9" y1="611.0" x2="472.0" y2="709.7" stroke="#d6d8da" stroke-width="0.8" opacity="0.7"/>
<line x1="189.9" y1="613.0" x2="472.0" y2="711.8" stroke="#d6d8da" stroke-width="0.8" opacity="0.7"/>
<line x1="189.9" y1="615.0" x2="472.0" y2="713.8" stroke="#d6d8da" stroke-width="0.8" opacity="0.7"/>
<line x1="189.9" y1="617.1" x2="472.0" y2="715.8" stroke="#d6d8da" stroke-width="0.8" opacity="0.7"/>
<line x1="189.9" y1="619.1" x2="472.0" y2="717.8" stroke="#d6d8da" stroke-width="0.8" opacity="0.7"/>
<line x1="189.9" y1="621.1" x2="472.0" y2="719.9" stroke="#d6d8da" stroke-width="0.8" opacity="0.7"/>
<line x1="189.9" y1="623.2" x2="472.0" y2="721.9" stroke="#d6d8da" stroke-width="0.8" opacity="0.7"/>
<line x1="189.9" y1="625.2" x2="472.0" y2="723.9" stroke="#d6d8da" stroke-width="0.8" opacity="0.7"/>
<line x1="189.9" y1="627.2" x2="472.0" y2="726.0" stroke="#d6d8da" stroke-width="0.8" opacity="0.7"/>
<line x1="189.9" y1="629.3" x2="472.0" y2="728.0" stroke="#d6d8da" stroke-width="0.8" opacity="0.7"/>
<line x1="189.9" y1="631.3" x2="472.0" y2="730.0" stroke="#d6d8da" stroke-width="0.8" opacity="0.7"/>
<line x1="189.9" y1="633.3" x2="472.0" y2="732.1" stroke="#d6d8da" stroke-width="0.8" opacity="0.7"/>
<line x1="189.9" y1="635.4" x2="472.0" y2="734.1" stroke="#d6d8da" stroke-width="0.8" opacity="0.7"/>
<line x1="189.9" y1="637.4" x2="472.0" y2="736.1" stroke="#d6d8da" stroke-width="0.8" opacity="0.7"/>
<line x1="189.9" y1="639.4" x2="472.0" y2="738.1" stroke="#d6d8da" stroke-width="0.8" opacity="0.7"/>
<line x1="189.9" y1="641.4" x2="472.0" y2="740.2" stroke="#d6d8da" stroke-width="0.8" opacity="0.7"/>
<line x1="189.9" y1="643.5" x2="472.0" y2="742.2" stroke="#d6d8da" stroke-width="0.8" opacity="0.7"/>
<line x1="189.9" y1="645.5" x2="472.0" y2="744.2" stroke="#d6d8da" stroke-width="0.8" opacity="0.7"/>
<line x1="189.9" y1="647.5" x2="472.0" y2="746.3" stroke="#d6d8da" stroke-width="0.8" opacity="0.7"/>
<line x1="189.9" y1="649.6" x2="472.0" y2="748.3" stroke="#d6d8da" stroke-width="0.8" opacity="0.7"/>
<line x1="189.9" y1="651.6" x2="472.0" y2="750.3" stroke="#d6d8da" stroke-width="0.8" opacity="0.7"/>
<line x1="189.9" y1="653.6" x2="472.0" y2="752.4" stroke="#d6d8da" stroke-width="0.8" opacity="0.7"/>
<line x1="189.9" y1="655.6" x2="472.0" y2="754.4" stroke="#d6d8da" stroke-width="0.8" opacity="0.7"/>
<line x1="189.9" y1="657.7" x2="472.0" y2="756.4" stroke="#d6d8da" stroke-width="0.8" opacity="0.7"/>
<line x1="189.9" y1="659.7" x2="472.0" y2="758.4" stroke="#d6d8da" stroke-width="0.8" opacity="0.7"/>
<line x1="189.9" y1="661.7" x2="472.0" y2="760.5" stroke="#d6d8da" stroke-width="0.8" opacity="0.7"/>
<line x1="189.9" y1="663.8" x2="472.0" y2="762.5" stroke="#d6d8da" stroke-width="0.8" opacity="0.7"/>
<line x1="189.9" y1="665.8" x2="472.0" y2="764.5" stroke="#d6d8da" stroke-width="0.8" opacity="0.7"/>
<line x1="189.9" y1="667.8" x2="472.0" y2="766.6" stroke="#d6d8da" stroke-width="0.8" opacity="0.7"/>
<line x1="189.9" y1="669.9" x2="472.0" y2="768.6" stroke="#d6d8da" stroke-width="0.8" opacity="0.7"/>
<line x1="189.9" y1="671.9" x2="472.0" y2="770.6" stroke="#d6d8da" stroke-width="0.8" opacity="0.7"/>
<line x1="189.9" y1="673.9" x2="472.0" y2="772.7" stroke="#d6d8da" stroke-width="0.8" opacity="0.7"/>
<line x1="189.9" y1="676.0" x2="472.0" y2="774.7" stroke="#d6d8da" stroke-width="0.8" opacity="0.7"/>
<line x1="189.9" y1="678.0" x2="472.0" y2="776.7" stroke="#d6d8da" stroke-width="0.8" opacity="0.7"/>
<line x1="189.9" y1="680.0" x2="472.0" y2="778.7" stroke="#d6d8da" stroke-width="0.8" opacity="0.7"/>
<line x1="189.9" y1="682.0" x2="472.0" y2="780.8" stroke="#d6d8da" stroke-width="0.8" opacity="0.7"/>
<line x1="189.9" y1="684.1" x2="472.0" y2="782.8" stroke="#d6d8da" stroke-width="0.8" opacity="0.7"/>
<line x1="189.9" y1="686.1" x2="472.0" y2="784.8" stroke="#d6d8da" stroke-width="0.8" opacity="0.7"/>
<line x1="189.9" y1="688.1" x2="472.0" y2="786.9" stroke="#d6d8da" stroke-width="0.8" opacity="0.7"/>
<line x1="189.9" y1="690.2" x2="472.0" y2="788.9" stroke="#d6d8da" stroke-width="0.8" opacity="0.7"/>
<line x1="189.9" y1="692.2" x2="472.0" y2="790.9" stroke="#d6d8da" stroke-width="0.8" opacity="0.7"/>
<line x1="189.9" y1="694.2" x2="472.0" y2="793.0" stroke="#d6d8da" stroke-width="0.8" opacity="0.7"/>
<line x1="189.9" y1="696.2" x2="472.0" y2="795.0" stroke="#d6d8da" stroke-width="0.8" opacity="0.7"/>
<line x1="189.9" y1="698.3" x2="472.0" y2="797.0" stroke="#d6d8da" stroke-width="0.8" opacity="0.7"/>
<line x1="189.9" y1="700.3" x2="472.0" y2="799.0" stroke="#d6d8da" stroke-width="0.8" opacity="0.7"/>
<line x1="189.9" y1="702.3" x2="472.0" y2="801.1" stroke="#d6d8da" stroke-width="0.8" opacity="0.7"/>
<line x1="189.9" y1="704.4" x2="472.0" y2="803.1" stroke="#d6d8da" stroke-width="0.8" opacity="0.7"/>
<line x1="189.9" y1="706.4" x2="472.0" y2="805.1" stroke="#d6d8da" stroke-width="0.8" opacity="0.7"/>
<line x1="189.9" y1="708.4" x2="472.0" y2="807.2" stroke="#d6d8da" stroke-width="0.8" opacity="0.7"/>
<line x1="189.9" y1="710.5" x2="472.0" y2="809.2" stroke="#d6d8da" stroke-width="0.8" opacity="0.7"/>
<line x1="189.9" y1="712.5" x2="472.0" y2="811.2" stroke="#d6d8da" stroke-width="0.8" opacity="0.7"/>
<line x1="189.9" y1="714.5" x2="472.0" y2="813.3" stroke="#d6d8da" stroke-width="0.8" opacity="0.7"/>
<line x1="189.9" y1="716.5" x2="472.0" y2="815.3" stroke="#d6d8da" stroke-width="0.8" opacity="0.7"/>
</g>
<linearGradient id="g11" x1="0" y1="0" x2="0" y2="1"><stop offset="0" stop-color="#ebedef"/><stop offset="1" stop-color="#e3e5e7"/></linearGradient>
<polygon points="236.0,537.5 385.6,512.5 436.3,525.5 253.2,573.1" fill="url(#g11)" stroke="#f4f5f6" stroke-width="0.8"/>
<linearGradient id="g12" x1="0" y1="0" x2="1" y2="0"><stop offset="0" stop-color="#5f6165"/><stop offset="1" stop-color="#72747a"/></linearGradient>
<polygon points="352.0,486.4 369.2,482.7 449.7,514.7 458.7,521.4 436.3,525.2" fill="url(#g12)" />
<linearGradient id="g13" x1="0" y1="0" x2="0" y2="1"><stop offset="0" stop-color="#f4f5f6"/><stop offset="0.5" stop-color="#e2e4e6"/><stop offset="1" stop-color="#bfc1c4"/></linearGradient>
<polygon points="253.2,573.1 436.3,525.5 437.8,535.6 256.0,582.5" fill="url(#g13)" />
<linearGradient id="g14" x1="0" y1="0" x2="0" y2="1"><stop offset="0" stop-color="#b4b6b9"/><stop offset="1" stop-color="#cdd0d2"/></linearGradient>
<polygon points="256.0,582.5 437.8,535.6 439.3,553.5 258.0,606.0" fill="url(#g14)" />
<clipPath id="cp15"><polygon points="256.0,582.5 437.8,535.6 439.3,553.5 258.0,606.0"/></clipPath>
<g clip-path="url(#cp15)">
<line x1="250.0" y1="585.0" x2="445.0" y2="538.0" stroke="#7e8084" stroke-width="1.2"/>
<line x1="250.0" y1="587.1" x2="445.0" y2="539.6" stroke="#eef0f2" stroke-width="1.4"/>
<line x1="250.0" y1="589.2" x2="445.0" y2="541.2" stroke="#7e8084" stroke-width="1.2"/>
<line x1="250.0" y1="591.3" x2="445.0" y2="542.8" stroke="#eef0f2" stroke-width="1.4"/>
<line x1="250.0" y1="593.4" x2="445.0" y2="544.4" stroke="#7e8084" stroke-width="1.2"/>
<line x1="250.0" y1="595.5" x2="445.0" y2="546.0" stroke="#eef0f2" stroke-width="1.4"/>
<line x1="250.0" y1="597.6" x2="445.0" y2="547.6" stroke="#7e8084" stroke-width="1.2"/>
<line x1="250.0" y1="599.7" x2="445.0" y2="549.2" stroke="#eef0f2" stroke-width="1.4"/>
<line x1="250.0" y1="601.8" x2="445.0" y2="550.8" stroke="#7e8084" stroke-width="1.2"/>
<line x1="250.0" y1="603.9" x2="445.0" y2="552.4" stroke="#eef0f2" stroke-width="1.4"/>
<line x1="250.0" y1="606.0" x2="445.0" y2="554.0" stroke="#7e8084" stroke-width="1.2"/>
</g>
<line x1="256" y1="582.5" x2="437.8" y2="535.6" stroke="#8a8c90" stroke-width="1"/>
<linearGradient id="g16" x1="0" y1="0" x2="0" y2="1"><stop offset="0" stop-color="#d8dadc"/><stop offset="0.5" stop-color="#e4e6e8"/><stop offset="1" stop-color="#bcbec1"/></linearGradient>
<polygon points="258.0,606.0 439.3,553.5 433.3,565.4 259.6,626.0" fill="url(#g16)" />
<line x1="259" y1="616" x2="436" y2="560" stroke="#7e8084" stroke-width="1.1"/>
<polygon points="436.3,525.5 455.0,521.5 459.5,524.5 436.0,565.4 432.6,565.4 439.3,553.5 437.8,535.6" fill="#7a7c80" />
<linearGradient id="g17" x1="0" y1="0" x2="0" y2="1"><stop offset="0" stop-color="#505256"/><stop offset="1" stop-color="#5e6064"/></linearGradient>
<polygon points="202.5,510.5 204.5,508.8 209.9,508.8 246.4,573.1 253.2,579.9 257.3,628.6 253.2,632.7 245.1,624.6 215.3,560.2 213.2,558.9" fill="url(#g17)" />
<polygon points="200.4,565.0 202.0,562.5 215.3,560.2 245.1,621.0 245.1,623.2 219.4,625.2 218.0,623.5" fill="#7a7c80" />
<ellipse cx="209.9" cy="569" rx="3.4" ry="2.2" transform="rotate(-15 209.9 569)" fill="#c9cace"/>
<ellipse cx="220.7" cy="587.3" rx="6" ry="2" transform="rotate(-12 220.7 587.3)" fill="#c9cace"/>
<ellipse cx="227.5" cy="611.7" rx="2.6" ry="4" transform="rotate(-25 227.5 611.7)" fill="#c9cace"/>
<path d="M214 577 Q221 580 222 585" stroke="#66686c" stroke-width="1.5" fill="none"/>
<path d="M221 595 Q229 599 229 604" stroke="#66686c" stroke-width="1.5" fill="none"/>
<polygon points="204.5,508.8 209.9,508.8 246.4,573.1 253.2,579.9 245.0,582.0 238.0,577.5 204.0,513.0" fill="#828488" />
<linearGradient id="g18" x1="0" y1="0" x2="1" y2="0"><stop offset="0" stop-color="#5e6064"/><stop offset="0.6" stop-color="#7a7c80"/><stop offset="1" stop-color="#8e9094"/></linearGradient>
<polygon points="242.4,581.2 246.0,580.0 253.2,579.9 257.3,628.6 253.2,632.7 247.0,628.0 244.5,622.0" fill="url(#g18)" />
<polyline points="205.7,509.6 252.0,580.7" stroke="#8e9094" stroke-width="1" fill="none"/>
<line x1="256.4" y1="581.9" x2="256.4" y2="627.6" stroke="#8e9094" stroke-width="0.8"/>
<line x1="249.5" y1="540.5" x2="271.5" y2="561.5" stroke="#e04a2c" stroke-width="4"/>
<line x1="256" y1="540" x2="274" y2="557" stroke="#8a8c90" stroke-width="0.6"/>
<line x1="278" y1="533" x2="301.5" y2="554.5" stroke="#3c3e42" stroke-width="2.4"/>
<line x1="292" y1="548" x2="302" y2="556" stroke="#3a5ab0" stroke-width="1.2"/>
<polygon points="304,535.5 312.5,534 313.5,540 305,541.5" fill="#21a44f"/>
<polygon points="314.5,533.6 322,532.2 323,538 315.5,539.6" fill="#21a44f"/>
<line x1="309" y1="527" x2="328" y2="545" stroke="#8a8c90" stroke-width="0.7"/>
<text x="0" y="0" transform="translate(347.5 530) rotate(217)" text-anchor="middle" dominant-baseline="central" font-size="12" font-weight="bold" fill="#2a2c30">400W</text>
<line x1="348" y1="519" x2="375" y2="536" stroke="#9a9ca0" stroke-width="0.7"/>
<path d="M377 527 l6 -3.5 l1 3.5 l5 -2.5" stroke="#333" stroke-width="1.8" fill="none"/>
<circle cx="310" cy="586" r="1.3" fill="#333"/>
</g>
<g>
<polygon points="207.3,818.6 367.7,792.4 431.8,837.8 242.6,882.1" fill="#dfe1e3" />
<clipPath id="cp19"><polygon points="207.3,818.6 367.7,792.4 431.8,837.8 242.6,882.1"/></clipPath>
<g clip-path="url(#cp19)">
<line x1="187.3" y1="819.9" x2="487.7" y2="770.8" stroke="#eaebed" stroke-width="1.5"/>
<line x1="187.3" y1="821.3" x2="487.7" y2="772.2" stroke="#c2c4c7" stroke-width="1.0"/>
<line x1="187.3" y1="822.8" x2="487.7" y2="773.7" stroke="#eaebed" stroke-width="1.5"/>
<line x1="187.3" y1="824.2" x2="487.7" y2="775.1" stroke="#c2c4c7" stroke-width="1.0"/>
<line x1="187.3" y1="825.7" x2="487.7" y2="776.6" stroke="#eaebed" stroke-width="1.5"/>
<line x1="187.3" y1="827.1" x2="487.7" y2="778.0" stroke="#c2c4c7" stroke-width="1.0"/>
<line x1="187.3" y1="828.6" x2="487.7" y2="779.5" stroke="#eaebed" stroke-width="1.5"/>
<line x1="187.3" y1="830.0" x2="487.7" y2="780.9" stroke="#c2c4c7" stroke-width="1.0"/>
<line x1="187.3" y1="831.5" x2="487.7" y2="782.4" stroke="#eaebed" stroke-width="1.5"/>
<line x1="187.3" y1="832.9" x2="487.7" y2="783.8" stroke="#c2c4c7" stroke-width="1.0"/>
<line x1="187.3" y1="834.4" x2="487.7" y2="785.3" stroke="#eaebed" stroke-width="1.5"/>
<line x1="187.3" y1="835.8" x2="487.7" y2="786.7" stroke="#c2c4c7" stroke-width="1.0"/>
<line x1="187.3" y1="837.3" x2="487.7" y2="788.2" stroke="#eaebed" stroke-width="1.5"/>
<line x1="187.3" y1="838.7" x2="487.7" y2="789.6" stroke="#c2c4c7" stroke-width="1.0"/>
<line x1="187.3" y1="840.2" x2="487.7" y2="791.1" stroke="#eaebed" stroke-width="1.5"/>
<line x1="187.3" y1="841.6" x2="487.7" y2="792.5" stroke="#c2c4c7" stroke-width="1.0"/>
<line x1="187.3" y1="843.1" x2="487.7" y2="794.0" stroke="#eaebed" stroke-width="1.5"/>
<line x1="187.3" y1="844.5" x2="487.7" y2="795.4" stroke="#c2c4c7" stroke-width="1.0"/>
<line x1="187.3" y1="846.0" x2="487.7" y2="796.9" stroke="#eaebed" stroke-width="1.5"/>
<line x1="187.3" y1="847.4" x2="487.7" y2="798.3" stroke="#c2c4c7" stroke-width="1.0"/>
<line x1="187.3" y1="848.9" x2="487.7" y2="799.8" stroke="#eaebed" stroke-width="1.5"/>
<line x1="187.3" y1="850.3" x2="487.7" y2="801.2" stroke="#c2c4c7" stroke-width="1.0"/>
<line x1="187.3" y1="851.8" x2="487.7" y2="802.7" stroke="#eaebed" stroke-width="1.5"/>
<line x1="187.3" y1="853.2" x2="487.7" y2="804.1" stroke="#c2c4c7" stroke-width="1.0"/>
<line x1="187.3" y1="854.7" x2="487.7" y2="805.6" stroke="#eaebed" stroke-width="1.5"/>
<line x1="187.3" y1="856.1" x2="487.7" y2="807.0" stroke="#c2c4c7" stroke-width="1.0"/>
<line x1="187.3" y1="857.6" x2="487.7" y2="808.5" stroke="#eaebed" stroke-width="1.5"/>
<line x1="187.3" y1="859.0" x2="487.7" y2="809.9" stroke="#c2c4c7" stroke-width="1.0"/>
<line x1="187.3" y1="860.5" x2="487.7" y2="811.4" stroke="#eaebed" stroke-width="1.5"/>
<line x1="187.3" y1="861.9" x2="487.7" y2="812.8" stroke="#c2c4c7" stroke-width="1.0"/>
<line x1="187.3" y1="863.4" x2="487.7" y2="814.3" stroke="#eaebed" stroke-width="1.5"/>
<line x1="187.3" y1="864.8" x2="487.7" y2="815.7" stroke="#c2c4c7" stroke-width="1.0"/>
<line x1="187.3" y1="866.3" x2="487.7" y2="817.2" stroke="#eaebed" stroke-width="1.5"/>
<line x1="187.3" y1="867.7" x2="487.7" y2="818.6" stroke="#c2c4c7" stroke-width="1.0"/>
<line x1="187.3" y1="869.2" x2="487.7" y2="820.1" stroke="#eaebed" stroke-width="1.5"/>
<line x1="187.3" y1="870.6" x2="487.7" y2="821.5" stroke="#c2c4c7" stroke-width="1.0"/>
<line x1="187.3" y1="872.1" x2="487.7" y2="823.0" stroke="#eaebed" stroke-width="1.5"/>
<line x1="187.3" y1="873.5" x2="487.7" y2="824.4" stroke="#c2c4c7" stroke-width="1.0"/>
<line x1="187.3" y1="875.0" x2="487.7" y2="825.9" stroke="#eaebed" stroke-width="1.5"/>
<line x1="187.3" y1="876.4" x2="487.7" y2="827.3" stroke="#c2c4c7" stroke-width="1.0"/>
<line x1="187.3" y1="877.9" x2="487.7" y2="828.8" stroke="#eaebed" stroke-width="1.5"/>
<line x1="187.3" y1="879.3" x2="487.7" y2="830.2" stroke="#c2c4c7" stroke-width="1.0"/>
<line x1="187.3" y1="880.8" x2="487.7" y2="831.7" stroke="#eaebed" stroke-width="1.5"/>
<line x1="187.3" y1="882.2" x2="487.7" y2="833.1" stroke="#c2c4c7" stroke-width="1.0"/>
<line x1="187.3" y1="883.7" x2="487.7" y2="834.6" stroke="#eaebed" stroke-width="1.5"/>
<line x1="187.3" y1="885.1" x2="487.7" y2="836.0" stroke="#c2c4c7" stroke-width="1.0"/>
<line x1="187.3" y1="886.6" x2="487.7" y2="837.5" stroke="#eaebed" stroke-width="1.5"/>
<line x1="187.3" y1="888.0" x2="487.7" y2="838.9" stroke="#c2c4c7" stroke-width="1.0"/>
<line x1="187.3" y1="889.5" x2="487.7" y2="840.4" stroke="#eaebed" stroke-width="1.5"/>
<line x1="187.3" y1="890.9" x2="487.7" y2="841.8" stroke="#c2c4c7" stroke-width="1.0"/>
<line x1="187.3" y1="892.4" x2="487.7" y2="843.3" stroke="#eaebed" stroke-width="1.5"/>
<line x1="187.3" y1="893.8" x2="487.7" y2="844.7" stroke="#c2c4c7" stroke-width="1.0"/>
<line x1="187.3" y1="895.3" x2="487.7" y2="846.2" stroke="#eaebed" stroke-width="1.5"/>
<line x1="187.3" y1="896.7" x2="487.7" y2="847.6" stroke="#c2c4c7" stroke-width="1.0"/>
<line x1="187.3" y1="898.2" x2="487.7" y2="849.1" stroke="#eaebed" stroke-width="1.5"/>
<line x1="187.3" y1="899.6" x2="487.7" y2="850.5" stroke="#c2c4c7" stroke-width="1.0"/>
<line x1="187.3" y1="901.1" x2="487.7" y2="852.0" stroke="#eaebed" stroke-width="1.5"/>
<line x1="187.3" y1="902.5" x2="487.7" y2="853.4" stroke="#c2c4c7" stroke-width="1.0"/>
<line x1="187.3" y1="904.0" x2="487.7" y2="854.9" stroke="#eaebed" stroke-width="1.5"/>
<line x1="187.3" y1="905.4" x2="487.7" y2="856.3" stroke="#c2c4c7" stroke-width="1.0"/>
<line x1="187.3" y1="906.9" x2="487.7" y2="857.8" stroke="#eaebed" stroke-width="1.5"/>
<line x1="187.3" y1="908.3" x2="487.7" y2="859.2" stroke="#c2c4c7" stroke-width="1.0"/>
<line x1="187.3" y1="909.8" x2="487.7" y2="860.7" stroke="#eaebed" stroke-width="1.5"/>
<line x1="187.3" y1="911.2" x2="487.7" y2="862.1" stroke="#c2c4c7" stroke-width="1.0"/>
<line x1="187.3" y1="912.7" x2="487.7" y2="863.6" stroke="#eaebed" stroke-width="1.5"/>
<line x1="187.3" y1="914.1" x2="487.7" y2="865.0" stroke="#c2c4c7" stroke-width="1.0"/>
<line x1="187.3" y1="915.6" x2="487.7" y2="866.5" stroke="#eaebed" stroke-width="1.5"/>
<line x1="187.3" y1="917.0" x2="487.7" y2="867.9" stroke="#c2c4c7" stroke-width="1.0"/>
<line x1="187.3" y1="918.5" x2="487.7" y2="869.4" stroke="#eaebed" stroke-width="1.5"/>
<line x1="187.3" y1="919.9" x2="487.7" y2="870.8" stroke="#c2c4c7" stroke-width="1.0"/>
<line x1="187.3" y1="921.4" x2="487.7" y2="872.3" stroke="#eaebed" stroke-width="1.5"/>
<line x1="187.3" y1="922.8" x2="487.7" y2="873.7" stroke="#c2c4c7" stroke-width="1.0"/>
<line x1="187.3" y1="924.3" x2="487.7" y2="875.2" stroke="#eaebed" stroke-width="1.5"/>
<line x1="187.3" y1="925.7" x2="487.7" y2="876.6" stroke="#c2c4c7" stroke-width="1.0"/>
<line x1="187.3" y1="927.2" x2="487.7" y2="878.1" stroke="#eaebed" stroke-width="1.5"/>
<line x1="187.3" y1="928.6" x2="487.7" y2="879.5" stroke="#c2c4c7" stroke-width="1.0"/>
<line x1="187.3" y1="930.1" x2="487.7" y2="881.0" stroke="#eaebed" stroke-width="1.5"/>
<line x1="187.3" y1="931.5" x2="487.7" y2="882.4" stroke="#c2c4c7" stroke-width="1.0"/>
<line x1="187.3" y1="933.0" x2="487.7" y2="883.9" stroke="#eaebed" stroke-width="1.5"/>
<line x1="187.3" y1="934.4" x2="487.7" y2="885.3" stroke="#c2c4c7" stroke-width="1.0"/>
<line x1="187.3" y1="935.9" x2="487.7" y2="886.8" stroke="#eaebed" stroke-width="1.5"/>
<line x1="187.3" y1="937.3" x2="487.7" y2="888.2" stroke="#c2c4c7" stroke-width="1.0"/>
<line x1="187.3" y1="938.8" x2="487.7" y2="889.7" stroke="#eaebed" stroke-width="1.5"/>
<line x1="187.3" y1="940.2" x2="487.7" y2="891.1" stroke="#c2c4c7" stroke-width="1.0"/>
<line x1="187.3" y1="941.7" x2="487.7" y2="892.6" stroke="#eaebed" stroke-width="1.5"/>
<line x1="187.3" y1="752.6" x2="487.7" y2="842.7" stroke="#d6d8da" stroke-width="0.8" opacity="0.7"/>
<line x1="187.3" y1="754.6" x2="487.7" y2="844.8" stroke="#d6d8da" stroke-width="0.8" opacity="0.7"/>
<line x1="187.3" y1="756.7" x2="487.7" y2="846.8" stroke="#d6d8da" stroke-width="0.8" opacity="0.7"/>
<line x1="187.3" y1="758.7" x2="487.7" y2="848.8" stroke="#d6d8da" stroke-width="0.8" opacity="0.7"/>
<line x1="187.3" y1="760.7" x2="487.7" y2="850.8" stroke="#d6d8da" stroke-width="0.8" opacity="0.7"/>
<line x1="187.3" y1="762.8" x2="487.7" y2="852.9" stroke="#d6d8da" stroke-width="0.8" opacity="0.7"/>
<line x1="187.3" y1="764.8" x2="487.7" y2="854.9" stroke="#d6d8da" stroke-width="0.8" opacity="0.7"/>
<line x1="187.3" y1="766.8" x2="487.7" y2="856.9" stroke="#d6d8da" stroke-width="0.8" opacity="0.7"/>
<line x1="187.3" y1="768.8" x2="487.7" y2="859.0" stroke="#d6d8da" stroke-width="0.8" opacity="0.7"/>
<line x1="187.3" y1="770.9" x2="487.7" y2="861.0" stroke="#d6d8da" stroke-width="0.8" opacity="0.7"/>
<line x1="187.3" y1="772.9" x2="487.7" y2="863.0" stroke="#d6d8da" stroke-width="0.8" opacity="0.7"/>
<line x1="187.3" y1="774.9" x2="487.7" y2="865.1" stroke="#d6d8da" stroke-width="0.8" opacity="0.7"/>
<line x1="187.3" y1="777.0" x2="487.7" y2="867.1" stroke="#d6d8da" stroke-width="0.8" opacity="0.7"/>
<line x1="187.3" y1="779.0" x2="487.7" y2="869.1" stroke="#d6d8da" stroke-width="0.8" opacity="0.7"/>
<line x1="187.3" y1="781.0" x2="487.7" y2="871.1" stroke="#d6d8da" stroke-width="0.8" opacity="0.7"/>
<line x1="187.3" y1="783.1" x2="487.7" y2="873.2" stroke="#d6d8da" stroke-width="0.8" opacity="0.7"/>
<line x1="187.3" y1="785.1" x2="487.7" y2="875.2" stroke="#d6d8da" stroke-width="0.8" opacity="0.7"/>
<line x1="187.3" y1="787.1" x2="487.7" y2="877.2" stroke="#d6d8da" stroke-width="0.8" opacity="0.7"/>
<line x1="187.3" y1="789.1" x2="487.7" y2="879.3" stroke="#d6d8da" stroke-width="0.8" opacity="0.7"/>
<line x1="187.3" y1="791.2" x2="487.7" y2="881.3" stroke="#d6d8da" stroke-width="0.8" opacity="0.7"/>
<line x1="187.3" y1="793.2" x2="487.7" y2="883.3" stroke="#d6d8da" stroke-width="0.8" opacity="0.7"/>
<line x1="187.3" y1="795.2" x2="487.7" y2="885.4" stroke="#d6d8da" stroke-width="0.8" opacity="0.7"/>
<line x1="187.3" y1="797.3" x2="487.7" y2="887.4" stroke="#d6d8da" stroke-width="0.8" opacity="0.7"/>
<line x1="187.3" y1="799.3" x2="487.7" y2="889.4" stroke="#d6d8da" stroke-width="0.8" opacity="0.7"/>
<line x1="187.3" y1="801.3" x2="487.7" y2="891.4" stroke="#d6d8da" stroke-width="0.8" opacity="0.7"/>
<line x1="187.3" y1="803.4" x2="487.7" y2="893.5" stroke="#d6d8da" stroke-width="0.8" opacity="0.7"/>
<line x1="187.3" y1="805.4" x2="487.7" y2="895.5" stroke="#d6d8da" stroke-width="0.8" opacity="0.7"/>
<line x1="187.3" y1="807.4" x2="487.7" y2="897.5" stroke="#d6d8da" stroke-width="0.8" opacity="0.7"/>
<line x1="187.3" y1="809.4" x2="487.7" y2="899.6" stroke="#d6d8da" stroke-width="0.8" opacity="0.7"/>
<line x1="187.3" y1="811.5" x2="487.7" y2="901.6" stroke="#d6d8da" stroke-width="0.8" opacity="0.7"/>
<line x1="187.3" y1="813.5" x2="487.7" y2="903.6" stroke="#d6d8da" stroke-width="0.8" opacity="0.7"/>
<line x1="187.3" y1="815.5" x2="487.7" y2="905.6" stroke="#d6d8da" stroke-width="0.8" opacity="0.7"/>
<line x1="187.3" y1="817.6" x2="487.7" y2="907.7" stroke="#d6d8da" stroke-width="0.8" opacity="0.7"/>
<line x1="187.3" y1="819.6" x2="487.7" y2="909.7" stroke="#d6d8da" stroke-width="0.8" opacity="0.7"/>
<line x1="187.3" y1="821.6" x2="487.7" y2="911.7" stroke="#d6d8da" stroke-width="0.8" opacity="0.7"/>
<line x1="187.3" y1="823.6" x2="487.7" y2="913.8" stroke="#d6d8da" stroke-width="0.8" opacity="0.7"/>
<line x1="187.3" y1="825.7" x2="487.7" y2="915.8" stroke="#d6d8da" stroke-width="0.8" opacity="0.7"/>
<line x1="187.3" y1="827.7" x2="487.7" y2="917.8" stroke="#d6d8da" stroke-width="0.8" opacity="0.7"/>
<line x1="187.3" y1="829.7" x2="487.7" y2="919.9" stroke="#d6d8da" stroke-width="0.8" opacity="0.7"/>
<line x1="187.3" y1="831.8" x2="487.7" y2="921.9" stroke="#d6d8da" stroke-width="0.8" opacity="0.7"/>
<line x1="187.3" y1="833.8" x2="487.7" y2="923.9" stroke="#d6d8da" stroke-width="0.8" opacity="0.7"/>
<line x1="187.3" y1="835.8" x2="487.7" y2="926.0" stroke="#d6d8da" stroke-width="0.8" opacity="0.7"/>
<line x1="187.3" y1="837.9" x2="487.7" y2="928.0" stroke="#d6d8da" stroke-width="0.8" opacity="0.7"/>
<line x1="187.3" y1="839.9" x2="487.7" y2="930.0" stroke="#d6d8da" stroke-width="0.8" opacity="0.7"/>
<line x1="187.3" y1="841.9" x2="487.7" y2="932.0" stroke="#d6d8da" stroke-width="0.8" opacity="0.7"/>
<line x1="187.3" y1="844.0" x2="487.7" y2="934.1" stroke="#d6d8da" stroke-width="0.8" opacity="0.7"/>
<line x1="187.3" y1="846.0" x2="487.7" y2="936.1" stroke="#d6d8da" stroke-width="0.8" opacity="0.7"/>
<line x1="187.3" y1="848.0" x2="487.7" y2="938.1" stroke="#d6d8da" stroke-width="0.8" opacity="0.7"/>
<line x1="187.3" y1="850.0" x2="487.7" y2="940.2" stroke="#d6d8da" stroke-width="0.8" opacity="0.7"/>
<line x1="187.3" y1="852.1" x2="487.7" y2="942.2" stroke="#d6d8da" stroke-width="0.8" opacity="0.7"/>
<line x1="187.3" y1="854.1" x2="487.7" y2="944.2" stroke="#d6d8da" stroke-width="0.8" opacity="0.7"/>
<line x1="187.3" y1="856.1" x2="487.7" y2="946.2" stroke="#d6d8da" stroke-width="0.8" opacity="0.7"/>
<line x1="187.3" y1="858.2" x2="487.7" y2="948.3" stroke="#d6d8da" stroke-width="0.8" opacity="0.7"/>
<line x1="187.3" y1="860.2" x2="487.7" y2="950.3" stroke="#d6d8da" stroke-width="0.8" opacity="0.7"/>
<line x1="187.3" y1="862.2" x2="487.7" y2="952.3" stroke="#d6d8da" stroke-width="0.8" opacity="0.7"/>
<line x1="187.3" y1="864.2" x2="487.7" y2="954.4" stroke="#d6d8da" stroke-width="0.8" opacity="0.7"/>
<line x1="187.3" y1="866.3" x2="487.7" y2="956.4" stroke="#d6d8da" stroke-width="0.8" opacity="0.7"/>
<line x1="187.3" y1="868.3" x2="487.7" y2="958.4" stroke="#d6d8da" stroke-width="0.8" opacity="0.7"/>
<line x1="187.3" y1="870.3" x2="487.7" y2="960.5" stroke="#d6d8da" stroke-width="0.8" opacity="0.7"/>
<line x1="187.3" y1="872.4" x2="487.7" y2="962.5" stroke="#d6d8da" stroke-width="0.8" opacity="0.7"/>
<line x1="187.3" y1="874.4" x2="487.7" y2="964.5" stroke="#d6d8da" stroke-width="0.8" opacity="0.7"/>
<line x1="187.3" y1="876.4" x2="487.7" y2="966.6" stroke="#d6d8da" stroke-width="0.8" opacity="0.7"/>
<line x1="187.3" y1="878.5" x2="487.7" y2="968.6" stroke="#d6d8da" stroke-width="0.8" opacity="0.7"/>
<line x1="187.3" y1="880.5" x2="487.7" y2="970.6" stroke="#d6d8da" stroke-width="0.8" opacity="0.7"/>
<line x1="187.3" y1="882.5" x2="487.7" y2="972.6" stroke="#d6d8da" stroke-width="0.8" opacity="0.7"/>
<line x1="187.3" y1="884.5" x2="487.7" y2="974.7" stroke="#d6d8da" stroke-width="0.8" opacity="0.7"/>
<line x1="187.3" y1="886.6" x2="487.7" y2="976.7" stroke="#d6d8da" stroke-width="0.8" opacity="0.7"/>
<line x1="187.3" y1="888.6" x2="487.7" y2="978.7" stroke="#d6d8da" stroke-width="0.8" opacity="0.7"/>
<line x1="187.3" y1="890.6" x2="487.7" y2="980.8" stroke="#d6d8da" stroke-width="0.8" opacity="0.7"/>
<line x1="187.3" y1="892.7" x2="487.7" y2="982.8" stroke="#d6d8da" stroke-width="0.8" opacity="0.7"/>
<line x1="187.3" y1="894.7" x2="487.7" y2="984.8" stroke="#d6d8da" stroke-width="0.8" opacity="0.7"/>
<line x1="187.3" y1="896.7" x2="487.7" y2="986.9" stroke="#d6d8da" stroke-width="0.8" opacity="0.7"/>
<line x1="187.3" y1="898.8" x2="487.7" y2="988.9" stroke="#d6d8da" stroke-width="0.8" opacity="0.7"/>
<line x1="187.3" y1="900.8" x2="487.7" y2="990.9" stroke="#d6d8da" stroke-width="0.8" opacity="0.7"/>
<line x1="187.3" y1="902.8" x2="487.7" y2="992.9" stroke="#d6d8da" stroke-width="0.8" opacity="0.7"/>
<line x1="187.3" y1="904.9" x2="487.7" y2="995.0" stroke="#d6d8da" stroke-width="0.8" opacity="0.7"/>
<line x1="187.3" y1="906.9" x2="487.7" y2="997.0" stroke="#d6d8da" stroke-width="0.8" opacity="0.7"/>
<line x1="187.3" y1="908.9" x2="487.7" y2="999.0" stroke="#d6d8da" stroke-width="0.8" opacity="0.7"/>
<line x1="187.3" y1="910.9" x2="487.7" y2="1001.1" stroke="#d6d8da" stroke-width="0.8" opacity="0.7"/>
<line x1="187.3" y1="913.0" x2="487.7" y2="1003.1" stroke="#d6d8da" stroke-width="0.8" opacity="0.7"/>
<line x1="187.3" y1="915.0" x2="487.7" y2="1005.1" stroke="#d6d8da" stroke-width="0.8" opacity="0.7"/>
<line x1="187.3" y1="917.0" x2="487.7" y2="1007.1" stroke="#d6d8da" stroke-width="0.8" opacity="0.7"/>
<line x1="187.3" y1="919.1" x2="487.7" y2="1009.2" stroke="#d6d8da" stroke-width="0.8" opacity="0.7"/>
<line x1="187.3" y1="921.1" x2="487.7" y2="1011.2" stroke="#d6d8da" stroke-width="0.8" opacity="0.7"/>
<line x1="187.3" y1="923.1" x2="487.7" y2="1013.2" stroke="#d6d8da" stroke-width="0.8" opacity="0.7"/>
<line x1="187.3" y1="925.1" x2="487.7" y2="1015.3" stroke="#d6d8da" stroke-width="0.8" opacity="0.7"/>
<line x1="187.3" y1="927.2" x2="487.7" y2="1017.3" stroke="#d6d8da" stroke-width="0.8" opacity="0.7"/>
<line x1="187.3" y1="929.2" x2="487.7" y2="1019.3" stroke="#d6d8da" stroke-width="0.8" opacity="0.7"/>
<line x1="187.3" y1="931.2" x2="487.7" y2="1021.4" stroke="#d6d8da" stroke-width="0.8" opacity="0.7"/>
<line x1="187.3" y1="933.3" x2="487.7" y2="1023.4" stroke="#d6d8da" stroke-width="0.8" opacity="0.7"/>
<line x1="187.3" y1="935.3" x2="487.7" y2="1025.4" stroke="#d6d8da" stroke-width="0.8" opacity="0.7"/>
<line x1="187.3" y1="937.3" x2="487.7" y2="1027.4" stroke="#d6d8da" stroke-width="0.8" opacity="0.7"/>
<line x1="187.3" y1="939.4" x2="487.7" y2="1029.5" stroke="#d6d8da" stroke-width="0.8" opacity="0.7"/>
<line x1="187.3" y1="941.4" x2="487.7" y2="1031.5" stroke="#d6d8da" stroke-width="0.8" opacity="0.7"/>
<line x1="187.3" y1="943.4" x2="487.7" y2="1033.5" stroke="#d6d8da" stroke-width="0.8" opacity="0.7"/>
<line x1="187.3" y1="945.5" x2="487.7" y2="1035.6" stroke="#d6d8da" stroke-width="0.8" opacity="0.7"/>
<line x1="187.3" y1="947.5" x2="487.7" y2="1037.6" stroke="#d6d8da" stroke-width="0.8" opacity="0.7"/>
<line x1="187.3" y1="949.5" x2="487.7" y2="1039.6" stroke="#d6d8da" stroke-width="0.8" opacity="0.7"/>
<line x1="187.3" y1="951.5" x2="487.7" y2="1041.7" stroke="#d6d8da" stroke-width="0.8" opacity="0.7"/>
<line x1="187.3" y1="953.6" x2="487.7" y2="1043.7" stroke="#d6d8da" stroke-width="0.8" opacity="0.7"/>
<line x1="187.3" y1="955.6" x2="487.7" y2="1045.7" stroke="#d6d8da" stroke-width="0.8" opacity="0.7"/>
<line x1="187.3" y1="957.6" x2="487.7" y2="1047.8" stroke="#d6d8da" stroke-width="0.8" opacity="0.7"/>
<line x1="187.3" y1="959.7" x2="487.7" y2="1049.8" stroke="#d6d8da" stroke-width="0.8" opacity="0.7"/>
<line x1="187.3" y1="961.7" x2="487.7" y2="1051.8" stroke="#d6d8da" stroke-width="0.8" opacity="0.7"/>
<line x1="187.3" y1="963.7" x2="487.7" y2="1053.8" stroke="#d6d8da" stroke-width="0.8" opacity="0.7"/>
<line x1="187.3" y1="965.8" x2="487.7" y2="1055.9" stroke="#d6d8da" stroke-width="0.8" opacity="0.7"/>
<line x1="187.3" y1="967.8" x2="487.7" y2="1057.9" stroke="#d6d8da" stroke-width="0.8" opacity="0.7"/>
<line x1="187.3" y1="969.8" x2="487.7" y2="1059.9" stroke="#d6d8da" stroke-width="0.8" opacity="0.7"/>
<line x1="187.3" y1="971.8" x2="487.7" y2="1062.0" stroke="#d6d8da" stroke-width="0.8" opacity="0.7"/>
<line x1="187.3" y1="973.9" x2="487.7" y2="1064.0" stroke="#d6d8da" stroke-width="0.8" opacity="0.7"/>
<line x1="187.3" y1="975.9" x2="487.7" y2="1066.0" stroke="#d6d8da" stroke-width="0.8" opacity="0.7"/>
<line x1="187.3" y1="977.9" x2="487.7" y2="1068.0" stroke="#d6d8da" stroke-width="0.8" opacity="0.7"/>
<line x1="187.3" y1="980.0" x2="487.7" y2="1070.1" stroke="#d6d8da" stroke-width="0.8" opacity="0.7"/>
<line x1="187.3" y1="982.0" x2="487.7" y2="1072.1" stroke="#d6d8da" stroke-width="0.8" opacity="0.7"/>
<line x1="187.3" y1="984.0" x2="487.7" y2="1074.1" stroke="#d6d8da" stroke-width="0.8" opacity="0.7"/>
<line x1="187.3" y1="986.0" x2="487.7" y2="1076.2" stroke="#d6d8da" stroke-width="0.8" opacity="0.7"/>
<line x1="187.3" y1="988.1" x2="487.7" y2="1078.2" stroke="#d6d8da" stroke-width="0.8" opacity="0.7"/>
<line x1="187.3" y1="990.1" x2="487.7" y2="1080.2" stroke="#d6d8da" stroke-width="0.8" opacity="0.7"/>
<line x1="187.3" y1="992.1" x2="487.7" y2="1082.3" stroke="#d6d8da" stroke-width="0.8" opacity="0.7"/>
<line x1="187.3" y1="994.2" x2="487.7" y2="1084.3" stroke="#d6d8da" stroke-width="0.8" opacity="0.7"/>
<line x1="187.3" y1="996.2" x2="487.7" y2="1086.3" stroke="#d6d8da" stroke-width="0.8" opacity="0.7"/>
<line x1="187.3" y1="998.2" x2="487.7" y2="1088.3" stroke="#d6d8da" stroke-width="0.8" opacity="0.7"/>
<line x1="187.3" y1="1000.3" x2="487.7" y2="1090.4" stroke="#d6d8da" stroke-width="0.8" opacity="0.7"/>
<line x1="187.3" y1="1002.3" x2="487.7" y2="1092.4" stroke="#d6d8da" stroke-width="0.8" opacity="0.7"/>
<line x1="187.3" y1="1004.3" x2="487.7" y2="1094.4" stroke="#d6d8da" stroke-width="0.8" opacity="0.7"/>
<line x1="187.3" y1="1006.4" x2="487.7" y2="1096.5" stroke="#d6d8da" stroke-width="0.8" opacity="0.7"/>
<line x1="187.3" y1="1008.4" x2="487.7" y2="1098.5" stroke="#d6d8da" stroke-width="0.8" opacity="0.7"/>
<line x1="187.3" y1="1010.4" x2="487.7" y2="1100.5" stroke="#d6d8da" stroke-width="0.8" opacity="0.7"/>
<line x1="187.3" y1="1012.4" x2="487.7" y2="1102.6" stroke="#d6d8da" stroke-width="0.8" opacity="0.7"/>
<line x1="187.3" y1="1014.5" x2="487.7" y2="1104.6" stroke="#d6d8da" stroke-width="0.8" opacity="0.7"/>
<line x1="187.3" y1="1016.5" x2="487.7" y2="1106.6" stroke="#d6d8da" stroke-width="0.8" opacity="0.7"/>
<line x1="187.3" y1="1018.5" x2="487.7" y2="1108.6" stroke="#d6d8da" stroke-width="0.8" opacity="0.7"/>
<line x1="187.3" y1="1020.6" x2="487.7" y2="1110.7" stroke="#d6d8da" stroke-width="0.8" opacity="0.7"/>
<line x1="187.3" y1="1022.6" x2="487.7" y2="1112.7" stroke="#d6d8da" stroke-width="0.8" opacity="0.7"/>
<line x1="187.3" y1="1024.6" x2="487.7" y2="1114.7" stroke="#d6d8da" stroke-width="0.8" opacity="0.7"/>
<line x1="187.3" y1="1026.7" x2="487.7" y2="1116.8" stroke="#d6d8da" stroke-width="0.8" opacity="0.7"/>
</g>
<linearGradient id="g20" x1="0" y1="0" x2="0" y2="1"><stop offset="0" stop-color="#ebedef"/><stop offset="1" stop-color="#e3e5e7"/></linearGradient>
<polygon points="230.2,851.2 391.6,817.7 431.8,837.8 242.6,882.1" fill="url(#g20)" stroke="#f4f5f6" stroke-width="0.8"/>
<linearGradient id="g21" x1="0" y1="0" x2="1" y2="0"><stop offset="0" stop-color="#6a6c70"/><stop offset="1" stop-color="#76787c"/></linearGradient>
<polygon points="367.7,792.4 384.1,790.1 449.7,826.7 455.0,834.1 431.8,837.8" fill="url(#g21)" />
<linearGradient id="g22" x1="0" y1="0" x2="0" y2="1"><stop offset="0" stop-color="#f4f5f6"/><stop offset="0.5" stop-color="#e2e4e6"/><stop offset="1" stop-color="#bfc1c4"/></linearGradient>
<polygon points="242.6,882.1 431.8,837.8 433.3,846.0 243.0,890.0" fill="url(#g22)" />
<linearGradient id="g23" x1="0" y1="0" x2="0" y2="1"><stop offset="0" stop-color="#b4b6b9"/><stop offset="1" stop-color="#cdd0d2"/></linearGradient>
<polygon points="243.0,890.0 433.3,846.0 439.3,858.0 243.4,908.4" fill="url(#g23)" />
<clipPath id="cp24"><polygon points="243.0,890.0 433.3,846.0 439.3,858.0 243.4,908.4"/></clipPath>
<g clip-path="url(#cp24)">
<line x1="238.0" y1="892.0" x2="445.0" y2="847.5" stroke="#7e8084" stroke-width="1.2"/>
<line x1="238.0" y1="894.1" x2="445.0" y2="848.9" stroke="#eef0f2" stroke-width="1.4"/>
<line x1="238.0" y1="896.1" x2="445.0" y2="850.2" stroke="#7e8084" stroke-width="1.2"/>
<line x1="238.0" y1="898.2" x2="445.0" y2="851.6" stroke="#eef0f2" stroke-width="1.4"/>
<line x1="238.0" y1="900.2" x2="445.0" y2="853.0" stroke="#7e8084" stroke-width="1.2"/>
<line x1="238.0" y1="902.3" x2="445.0" y2="854.4" stroke="#eef0f2" stroke-width="1.4"/>
<line x1="238.0" y1="904.4" x2="445.0" y2="855.8" stroke="#7e8084" stroke-width="1.2"/>
<line x1="238.0" y1="906.4" x2="445.0" y2="857.1" stroke="#eef0f2" stroke-width="1.4"/>
<line x1="238.0" y1="908.5" x2="445.0" y2="858.5" stroke="#7e8084" stroke-width="1.2"/>
</g>
<line x1="243" y1="890" x2="433.3" y2="846" stroke="#8a8c90" stroke-width="1"/>
<linearGradient id="g25" x1="0" y1="0" x2="0" y2="1"><stop offset="0" stop-color="#d8dadc"/><stop offset="0.5" stop-color="#e4e6e8"/><stop offset="1" stop-color="#bcbec1"/></linearGradient>
<polygon points="243.4,908.4 439.3,858.0 436.3,871.4 244.9,927.5" fill="url(#g25)" />
<line x1="244" y1="917" x2="438" y2="865" stroke="#7e8084" stroke-width="1.1"/>
<polygon points="431.8,837.8 452.0,835.0 456.0,838.5 440.0,871.4 436.3,871.4 439.3,858.0 433.3,846.0" fill="#6e7074" />
<linearGradient id="g26" x1="0" y1="0" x2="0" y2="1"><stop offset="0" stop-color="#5c5e62"/><stop offset="1" stop-color="#64666a"/></linearGradient>
<polygon points="199.5,820.5 201.5,818.8 207.3,818.1 239.2,880.4 241.9,885.8 245.2,930.5 239.2,933.2 232.4,926.4 208.0,866.2" fill="url(#g26)" />
<polygon points="194.5,870.9 196.0,868.5 208.0,866.2 231.0,921.0 231.0,923.7 209.4,926.4 208.0,924.5" fill="#626468" />
<ellipse cx="203.3" cy="875" rx="2.9" ry="2.9" transform="rotate(0 203.3 875)" fill="#c9cace"/>
<ellipse cx="212.8" cy="893.3" rx="5" ry="2" transform="rotate(-12 212.8 893.3)" fill="#c9cace"/>
<ellipse cx="217.5" cy="915" rx="2.5" ry="3.6" transform="rotate(-25 217.5 915)" fill="#c9cace"/>
<path d="M207 884 Q214 887 215 892" stroke="#4e5054" stroke-width="1.5" fill="none"/>
<path d="M213 900 Q221 904 221 909" stroke="#4e5054" stroke-width="1.5" fill="none"/>
<polygon points="201.5,818.8 207.3,818.1 239.2,880.4 241.9,885.8 235.0,887.0 231.0,882.0 202.0,821.0" fill="#75777b" />
<linearGradient id="g27" x1="0" y1="0" x2="1" y2="0"><stop offset="0" stop-color="#64666a"/><stop offset="0.6" stop-color="#6e7074"/><stop offset="1" stop-color="#7e8084"/></linearGradient>
<polygon points="231.0,886.0 236.0,885.5 241.9,885.8 245.2,930.5 239.2,933.2 234.0,929.0 232.4,926.4" fill="url(#g27)" />
<polyline points="202.7,819.6 240.7,886.6" stroke="#8e9094" stroke-width="1" fill="none"/>
<line x1="244.3" y1="887.8" x2="244.3" y2="929.5" stroke="#8e9094" stroke-width="0.8"/>
<line x1="245" y1="852.5" x2="261.5" y2="871" stroke="#e04a2c" stroke-width="3.6"/>
<line x1="250" y1="851" x2="264" y2="867" stroke="#8a8c90" stroke-width="0.6"/>
<line x1="274.5" y1="845.5" x2="291" y2="865" stroke="#3c3e42" stroke-width="2"/>
<line x1="284" y1="857" x2="291.5" y2="865.5" stroke="#3a5ab0" stroke-width="1.1"/>
<polygon points="301.5,851.5 309,850 310,854.5 302.5,856" fill="#21a44f"/>
<polygon points="311,849.8 318,848.5 318.8,853 312,854.3" fill="#21a44f"/>
<line x1="307" y1="842" x2="322" y2="858" stroke="#8a8c90" stroke-width="0.7"/>
<text x="0" y="0" transform="translate(339.5 843.5) rotate(218)" text-anchor="middle" dominant-baseline="central" font-size="10.5" font-weight="bold" fill="#2a2c30">600W</text>
<line x1="336" y1="832" x2="358" y2="849" stroke="#9a9ca0" stroke-width="0.7"/>
<path d="M356 831 l5 -3 l1 3 l4 -2" stroke="#333" stroke-width="1.6" fill="none"/>
<line x1="392" y1="818.5" x2="423" y2="836.5" stroke="#44464a" stroke-width="1.6"/>
<circle cx="384" cy="871" r="1.3" fill="#333"/>
<circle cx="296" cy="892" r="1.3" fill="#333"/>
</g>
<rect x="560" y="504" width="62" height="26" fill="#fff" opacity="0.55"/>
<path d="M578.5 181.4 L624.7 181.4 L624.7 168.0 Q624.7 166.5 626.2 166.5 L627.6 166.5 Q628.6 166.5 628.6 168.0 L628.6 186.8 L578.5 186.8 Q577 186.8 577 185.3 L577 182.9 Q577 181.4 578.5 181.4Z" fill="#fff" stroke="#4a4a4a" stroke-width="1"/>
<line x1="578" y1="188.10000000000002" x2="628.1" y2="188.10000000000002" stroke="#555" stroke-width="1.6"/>
<line x1="579.6" y1="188.8" x2="579.6" y2="327.7" stroke="#4a4a4a" stroke-width="1"/>
<line x1="588" y1="188.8" x2="588" y2="348" stroke="#555" stroke-width="2.0"/>
<line x1="592.7" y1="188.8" x2="592.7" y2="348" stroke="#777" stroke-width="1"/>
<line x1="597.3" y1="188.8" x2="597.3" y2="348" stroke="#4a4a4a" stroke-width="1"/>
<line x1="601.6" y1="188.8" x2="601.6" y2="348" stroke="#777" stroke-width="1"/>
<line x1="606.3" y1="188.8" x2="606.3" y2="348" stroke="#4a4a4a" stroke-width="1"/>
<line x1="608.3" y1="188.8" x2="608.3" y2="348" stroke="#777" stroke-width="1"/>
<line x1="615.5" y1="188.8" x2="615.5" y2="348" stroke="#4a4a4a" stroke-width="1"/>
<line x1="617.2" y1="188.8" x2="617.2" y2="348" stroke="#777" stroke-width="1"/>
<line x1="626.5" y1="188.8" x2="626.5" y2="348" stroke="#4a4a4a" stroke-width="1"/>
<path d="M577.5 351.1 L577.5 328.7 Q577.5 327.7 578.5 327.7 L588.4 327.7 L588.4 348 L627 348 Q628 348 628 349 L628 351.6 Q628 352.6 627 352.6 L579.0 352.6 Q577.5 352.6 577.5 351.1Z" fill="#fff" stroke="#4a4a4a" stroke-width="1"/>
<circle cx="611.7" cy="297.4" r="2.6" fill="#999" stroke="#333" stroke-width="1"/>
<path d="M610.4000000000001 297.4 h2.6 M611.7 296.09999999999997 v2.6" stroke="#333" stroke-width="0.8"/>
<line x1="641" y1="166.5" x2="649.5" y2="166.5" stroke="#4a4a4a" stroke-width="1"/>
<line x1="641" y1="353.5" x2="649.5" y2="353.5" stroke="#4a4a4a" stroke-width="1"/>
<line x1="645.5" y1="166.5" x2="645.5" y2="246.3" stroke="#4a4a4a" stroke-width="1"/>
<line x1="645.5" y1="278.2" x2="645.5" y2="353" stroke="#4a4a4a" stroke-width="1"/>
<path d="M645 167.0 L642.6 176.5 L647.4 176.5Z" fill="#222"/>
<path d="M645 352.5 L642.6 343.0 L647.4 343.0Z" fill="#222"/>
<text x="0" y="0" transform="translate(644.00 262.85) rotate(-90)" text-anchor="middle" dominant-baseline="central" font-size="16.5" letter-spacing="1.5" fill="#222">175</text>
<line x1="577.5" y1="356.5" x2="577.5" y2="363.5" stroke="#4a4a4a" stroke-width="1"/>
<line x1="628.5" y1="356.5" x2="628.5" y2="363.5" stroke="#4a4a4a" stroke-width="1"/>
<line x1="577.5" y1="361.5" x2="628" y2="361.5" stroke="#4a4a4a" stroke-width="1"/>
<path d="M578.0 361 L586.5 358.9 L586.5 363.1Z" fill="#222"/>
<path d="M627.5 361 L619.0 358.9 L619.0 363.1Z" fill="#222"/>
<text x="600.00" y="368.65" text-anchor="middle" dominant-baseline="central" font-size="16.5" letter-spacing="1.0" fill="#222">49</text>
<path d="M578.2 454.3 L624.6 454.3 L624.6 436.9 Q624.6 435.4 626.1 435.4 L627.1 435.4 Q628.1 435.4 628.1 436.9 L628.1 460.3 L578.2 460.3 Q576.7 460.3 576.7 458.8 L576.7 455.8 Q576.7 454.3 578.2 454.3Z" fill="#fff" stroke="#4a4a4a" stroke-width="1"/>
<line x1="577.7" y1="461.6" x2="627.6" y2="461.6" stroke="#555" stroke-width="1.6"/>
<line x1="578.9" y1="462.3" x2="578.9" y2="632.2" stroke="#4a4a4a" stroke-width="1"/>
<line x1="587.4" y1="462.3" x2="587.4" y2="652.6" stroke="#555" stroke-width="2.0"/>
<line x1="591.8" y1="462.3" x2="591.8" y2="652.6" stroke="#777" stroke-width="1"/>
<line x1="596.6" y1="462.3" x2="596.6" y2="652.6" stroke="#4a4a4a" stroke-width="1"/>
<line x1="600.8" y1="462.3" x2="600.8" y2="652.6" stroke="#777" stroke-width="1"/>
<line x1="605.6" y1="462.3" x2="605.6" y2="652.6" stroke="#4a4a4a" stroke-width="1"/>
<line x1="607.2" y1="462.3" x2="607.2" y2="652.6" stroke="#777" stroke-width="1"/>
<line x1="614.7" y1="462.3" x2="614.7" y2="652.6" stroke="#4a4a4a" stroke-width="1"/>
<line x1="616.7" y1="462.3" x2="616.7" y2="652.6" stroke="#777" stroke-width="1"/>
<line x1="625.8" y1="462.3" x2="625.8" y2="652.6" stroke="#4a4a4a" stroke-width="1"/>
<path d="M576.9 655.9 L576.9 633.2 Q576.9 632.2 577.9 632.2 L588 632.2 L588 652.6 L626.8 652.6 Q627.8 652.6 627.8 653.6 L627.8 656.4 Q627.8 657.4 626.8 657.4 L578.4 657.4 Q576.9 657.4 576.9 655.9Z" fill="#fff" stroke="#4a4a4a" stroke-width="1"/>
<circle cx="611.2" cy="565.2" r="2.6" fill="#999" stroke="#333" stroke-width="1"/>
<path d="M609.9000000000001 565.2 h2.6 M611.2 563.9000000000001 v2.6" stroke="#333" stroke-width="0.8"/>
<circle cx="611.2" cy="602.4" r="2.6" fill="#999" stroke="#333" stroke-width="1"/>
<path d="M609.9000000000001 602.4 h2.6 M611.2 601.1 v2.6" stroke="#333" stroke-width="0.8"/>
<line x1="641" y1="436.5" x2="649.5" y2="436.5" stroke="#4a4a4a" stroke-width="1"/>
<line x1="641" y1="657.5" x2="649.5" y2="657.5" stroke="#4a4a4a" stroke-width="1"/>
<line x1="645.5" y1="436.4" x2="645.5" y2="528" stroke="#4a4a4a" stroke-width="1"/>
<line x1="645.5" y1="564.7" x2="645.5" y2="657.6" stroke="#4a4a4a" stroke-width="1"/>
<path d="M645 436.9 L642.6 446.4 L647.4 446.4Z" fill="#222"/>
<path d="M645 657.1 L642.6 647.6 L647.4 647.6Z" fill="#222"/>
<text x="0" y="0" transform="translate(644.00 545.90) rotate(-90)" text-anchor="middle" dominant-baseline="central" font-size="16.5" letter-spacing="1.5" fill="#222">203</text>
<line x1="576.5" y1="661.6" x2="576.5" y2="668.5" stroke="#4a4a4a" stroke-width="1"/>
<line x1="627.5" y1="661.6" x2="627.5" y2="668.5" stroke="#4a4a4a" stroke-width="1"/>
<line x1="576.9" y1="665.5" x2="627.6" y2="665.5" stroke="#4a4a4a" stroke-width="1"/>
<path d="M577.4 665.7 L585.9 663.6 L585.9 667.8000000000001Z" fill="#222"/>
<path d="M627.1 665.7 L618.6 663.6 L618.6 667.8000000000001Z" fill="#222"/>
<text x="602.40" y="673.25" text-anchor="middle" dominant-baseline="central" font-size="16.5" letter-spacing="1.0" fill="#222">49</text>
<path d="M590.9 757.8 L632.7 757.8 L632.7 742.9 Q632.7 741.4 634.2 741.4 L634.7 741.4 Q635.7 741.4 635.7 742.9 L635.7 762.8 L590.9 762.8 Q589.4 762.8 589.4 761.3 L589.4 759.3 Q589.4 757.8 590.9 757.8Z" fill="#fff" stroke="#4a4a4a" stroke-width="1"/>
<line x1="590.4" y1="764.0999999999999" x2="635.2" y2="764.0999999999999" stroke="#555" stroke-width="1.6"/>
<line x1="591.4" y1="764.8" x2="591.4" y2="932.8" stroke="#4a4a4a" stroke-width="1"/>
<line x1="598.9" y1="764.8" x2="598.9" y2="950.7" stroke="#555" stroke-width="2.0"/>
<line x1="603.4" y1="764.8" x2="603.4" y2="950.7" stroke="#777" stroke-width="1"/>
<line x1="607.3" y1="764.8" x2="607.3" y2="950.7" stroke="#4a4a4a" stroke-width="1"/>
<line x1="611.6" y1="764.8" x2="611.6" y2="950.7" stroke="#777" stroke-width="1"/>
<line x1="615.6" y1="764.8" x2="615.6" y2="950.7" stroke="#4a4a4a" stroke-width="1"/>
<line x1="617.3" y1="764.8" x2="617.3" y2="950.7" stroke="#777" stroke-width="1"/>
<line x1="623.7" y1="764.8" x2="623.7" y2="950.7" stroke="#4a4a4a" stroke-width="1"/>
<line x1="625.2" y1="764.8" x2="625.2" y2="950.7" stroke="#777" stroke-width="1"/>
<line x1="633.7" y1="764.8" x2="633.7" y2="950.7" stroke="#4a4a4a" stroke-width="1"/>
<path d="M589.6 953.2 L589.6 933.8 Q589.6 932.8 590.6 932.8 L599.4 932.8 L599.4 950.7 L634.2 950.7 Q635.2 950.7 635.2 951.7 L635.2 953.7 Q635.2 954.7 634.2 954.7 L591.1 954.7 Q589.6 954.7 589.6 953.2Z" fill="#fff" stroke="#4a4a4a" stroke-width="1"/>
<circle cx="620.3" cy="864.7" r="2.6" fill="#999" stroke="#333" stroke-width="1"/>
<path d="M619.0 864.7 h2.6 M620.3 863.4000000000001 v2.6" stroke="#333" stroke-width="0.8"/>
<circle cx="620.3" cy="905" r="2.6" fill="#999" stroke="#333" stroke-width="1"/>
<path d="M619.0 905 h2.6 M620.3 903.7 v2.6" stroke="#333" stroke-width="0.8"/>
<line x1="647.6" y1="741.5" x2="655.5" y2="741.5" stroke="#4a4a4a" stroke-width="1"/>
<line x1="647.6" y1="955.5" x2="655.5" y2="955.5" stroke="#4a4a4a" stroke-width="1"/>
<line x1="651.5" y1="741.4" x2="651.5" y2="838.8" stroke="#4a4a4a" stroke-width="1"/>
<line x1="651.5" y1="877" x2="651.5" y2="955.2" stroke="#4a4a4a" stroke-width="1"/>
<path d="M651.4 741.9 L649.0 751.4 L653.8 751.4Z" fill="#222"/>
<path d="M651.4 954.7 L649.0 945.2 L653.8 945.2Z" fill="#222"/>
<text x="0" y="0" transform="translate(650.20 856.80) rotate(-90)" text-anchor="middle" dominant-baseline="central" font-size="15.5" letter-spacing="1.4" fill="#222">220</text>
<line x1="589.5" y1="958.6" x2="589.5" y2="964.6" stroke="#4a4a4a" stroke-width="1"/>
<line x1="635.5" y1="958.6" x2="635.5" y2="964.6" stroke="#4a4a4a" stroke-width="1"/>
<line x1="589.4" y1="962.5" x2="635.2" y2="962.5" stroke="#4a4a4a" stroke-width="1"/>
<path d="M589.9 962.4 L598.4 960.3 L598.4 964.5Z" fill="#222"/>
<path d="M634.7 962.4 L626.2 960.3 L626.2 964.5Z" fill="#222"/>
<text x="609.90" y="969.15" text-anchor="middle" dominant-baseline="central" font-size="14.9" letter-spacing="0.4" fill="#222">49</text>
<path d="M716.4 183 L716.4 170 Q716.4 167 719.4 167 L803.2 167 Q806.2 167 806.2 170 L806.2 183" fill="#fff" stroke="#4a4a4a" stroke-width="1"/>
<rect x="726.5" y="172.5" width="13.299999999999955" height="4.199999999999989" rx="2.0999999999999943" fill="none" stroke="#4a4a4a" stroke-width="1"/>
<rect x="781" y="172.5" width="14.799999999999955" height="4.199999999999989" rx="2.0999999999999943" fill="none" stroke="#4a4a4a" stroke-width="1"/>
<path d="M758.4 175.43 L758.4 172.29999999999998 A2.6 2.6 0 0 1 763.6 172.29999999999998 L763.6 175.43 A4.6 3.6 0 1 1 758.4 175.43Z" fill="#fff" stroke="#4a4a4a" stroke-width="1"/>
<line x1="747.5" y1="172.5" x2="747.5" y2="183" stroke="#333" stroke-width="1.2"/>
<line x1="773" y1="172.5" x2="773" y2="183" stroke="#333" stroke-width="1.2"/>
<rect x="703.2" y="183" width="117.59999999999991" height="9.699999999999989" rx="1.5" fill="#fff" stroke="#4a4a4a" stroke-width="1"/>
<line x1="711.5" y1="183" x2="711.5" y2="192.7" stroke="#4a4a4a" stroke-width="1"/>
<line x1="813.5" y1="183" x2="813.5" y2="192.7" stroke="#4a4a4a" stroke-width="1"/>
<line x1="706" y1="194.0" x2="818.3" y2="194.0" stroke="#666" stroke-width="1.2"/>
<line x1="707" y1="194.8" x2="707" y2="325.7" stroke="#4a4a4a" stroke-width="1"/>
<line x1="817.3" y1="194.8" x2="817.3" y2="325.7" stroke="#4a4a4a" stroke-width="1"/>
<line x1="752.5" y1="194.8" x2="752.5" y2="325.7" stroke="#555" stroke-width="1"/>
<line x1="756.96" y1="194.8" x2="756.96" y2="325.7" stroke="#8a8a8a" stroke-width="1.3"/>
<line x1="761.5" y1="194.8" x2="761.5" y2="325.7" stroke="#555" stroke-width="1"/>
<line x1="765.68" y1="194.8" x2="765.68" y2="325.7" stroke="#8a8a8a" stroke-width="1.3"/>
<line x1="770.5" y1="194.8" x2="770.5" y2="325.7" stroke="#555" stroke-width="1"/>
<line x1="774.41" y1="194.8" x2="774.41" y2="325.7" stroke="#8a8a8a" stroke-width="1.3"/>
<line x1="778.5" y1="194.8" x2="778.5" y2="325.7" stroke="#555" stroke-width="1"/>
<line x1="783.13" y1="194.8" x2="783.13" y2="325.7" stroke="#8a8a8a" stroke-width="1.3"/>
<line x1="787.5" y1="194.8" x2="787.5" y2="325.7" stroke="#555" stroke-width="1"/>
<line x1="791.85" y1="194.8" x2="791.85" y2="325.7" stroke="#8a8a8a" stroke-width="1.3"/>
<line x1="796.5" y1="194.8" x2="796.5" y2="325.7" stroke="#555" stroke-width="1"/>
<line x1="800.58" y1="194.8" x2="800.58" y2="325.7" stroke="#8a8a8a" stroke-width="1.3"/>
<line x1="804.5" y1="194.8" x2="804.5" y2="325.7" stroke="#555" stroke-width="1"/>
<line x1="809.3" y1="194.8" x2="809.3" y2="325.7" stroke="#8a8a8a" stroke-width="1.3"/>
<line x1="798.5" y1="201" x2="798.5" y2="230" stroke="#555" stroke-width="1"/>
<rect x="702.8" y="325.7" width="117.20000000000005" height="27.5" rx="1.2" fill="#fff" stroke="#5a5a5a" stroke-width="1.3"/>
<path d="M716.4 353.2 L716.4 330 L806.6 330 L806.6 353.2" fill="none" stroke="#4a4a4a" stroke-width="1"/>
<line x1="692.8" y1="194.5" x2="701" y2="194.5" stroke="#4a4a4a" stroke-width="1"/>
<line x1="692.8" y1="325.5" x2="701" y2="325.5" stroke="#4a4a4a" stroke-width="1"/>
<line x1="696.5" y1="194.8" x2="696.5" y2="242.4" stroke="#4a4a4a" stroke-width="1"/>
<line x1="696.5" y1="281.1" x2="696.5" y2="325.7" stroke="#4a4a4a" stroke-width="1"/>
<path d="M696.6 195.3 L694.2 204.8 L699.0 204.8Z" fill="#222"/>
<path d="M696.6 325.2 L694.2 315.7 L699.0 315.7Z" fill="#222"/>
<text x="0" y="0" transform="translate(696.00 260.50) rotate(-90)" text-anchor="middle" dominant-baseline="central" font-size="16.5" letter-spacing="1.5" fill="#222">123</text>
<line x1="702.5" y1="358.4" x2="702.5" y2="365.4" stroke="#4a4a4a" stroke-width="1"/>
<line x1="820.5" y1="358.4" x2="820.5" y2="365.4" stroke="#4a4a4a" stroke-width="1"/>
<line x1="702.8" y1="360.5" x2="820" y2="360.5" stroke="#4a4a4a" stroke-width="1"/>
<path d="M703.3 360.5 L711.8 358.4 L711.8 362.6Z" fill="#222"/>
<path d="M819.5 360.5 L811.0 358.4 L811.0 362.6Z" fill="#222"/>
<text x="756.60" y="367.00" text-anchor="middle" dominant-baseline="central" font-size="16.5" letter-spacing="0.3" fill="#222">108</text>
<path d="M729.4 455.4 L729.4 442.5 Q729.4 439.5 732.4 439.5 L815.5 439.5 Q818.5 439.5 818.5 442.5 L818.5 455.4" fill="#fff" stroke="#4a4a4a" stroke-width="1"/>
<rect x="738.5" y="445" width="13.5" height="5" rx="2.5" fill="none" stroke="#4a4a4a" stroke-width="1"/>
<rect x="794" y="445" width="13.700000000000045" height="5" rx="2.5" fill="none" stroke="#4a4a4a" stroke-width="1"/>
<path d="M770.9 448.13 L770.9 444.6 A2.6 2.6 0 0 1 776.1 444.6 L776.1 448.13 A4.6 3.6 0 1 1 770.9 448.13Z" fill="#fff" stroke="#4a4a4a" stroke-width="1"/>
<line x1="760" y1="445" x2="760" y2="455.4" stroke="#333" stroke-width="1.2"/>
<line x1="785.4" y1="445" x2="785.4" y2="455.4" stroke="#333" stroke-width="1.2"/>
<rect x="715.4" y="455.4" width="116.89999999999998" height="9.600000000000023" rx="1.5" fill="#fff" stroke="#4a4a4a" stroke-width="1"/>
<line x1="723.5" y1="455.4" x2="723.5" y2="465" stroke="#4a4a4a" stroke-width="1"/>
<line x1="826.5" y1="455.4" x2="826.5" y2="465" stroke="#4a4a4a" stroke-width="1"/>
<line x1="717.6" y1="466.59999999999997" x2="831.3" y2="466.59999999999997" stroke="#666" stroke-width="1.2"/>
<line x1="718.6" y1="467.4" x2="718.6" y2="629.4" stroke="#4a4a4a" stroke-width="1"/>
<line x1="830.3" y1="467.4" x2="830.3" y2="629.4" stroke="#4a4a4a" stroke-width="1"/>
<line x1="760.5" y1="467.4" x2="760.5" y2="629.4" stroke="#555" stroke-width="1"/>
<line x1="764.54" y1="467.4" x2="764.54" y2="629.4" stroke="#8a8a8a" stroke-width="1.3"/>
<line x1="769.5" y1="467.4" x2="769.5" y2="629.4" stroke="#555" stroke-width="1"/>
<line x1="773.63" y1="467.4" x2="773.63" y2="629.4" stroke="#8a8a8a" stroke-width="1.3"/>
<line x1="778.5" y1="467.4" x2="778.5" y2="629.4" stroke="#555" stroke-width="1"/>
<line x1="782.71" y1="467.4" x2="782.71" y2="629.4" stroke="#8a8a8a" stroke-width="1.3"/>
<line x1="787.5" y1="467.4" x2="787.5" y2="629.4" stroke="#555" stroke-width="1"/>
<line x1="791.8" y1="467.4" x2="791.8" y2="629.4" stroke="#8a8a8a" stroke-width="1.3"/>
<line x1="796.5" y1="467.4" x2="796.5" y2="629.4" stroke="#555" stroke-width="1"/>
<line x1="800.89" y1="467.4" x2="800.89" y2="629.4" stroke="#8a8a8a" stroke-width="1.3"/>
<line x1="805.5" y1="467.4" x2="805.5" y2="629.4" stroke="#555" stroke-width="1"/>
<line x1="809.97" y1="467.4" x2="809.97" y2="629.4" stroke="#8a8a8a" stroke-width="1.3"/>
<line x1="814.5" y1="467.4" x2="814.5" y2="629.4" stroke="#555" stroke-width="1"/>
<line x1="819.06" y1="467.4" x2="819.06" y2="629.4" stroke="#8a8a8a" stroke-width="1.3"/>
<line x1="823.5" y1="467.4" x2="823.5" y2="629.4" stroke="#555" stroke-width="1"/>
<rect x="716.7" y="629.4" width="117.29999999999995" height="27.600000000000023" rx="1.2" fill="#fff" stroke="#5a5a5a" stroke-width="1.3"/>
<path d="M730.6 657 L730.6 633.9 L820.7 633.9 L820.7 657" fill="none" stroke="#4a4a4a" stroke-width="1"/>
<line x1="700" y1="467.5" x2="708.8" y2="467.5" stroke="#4a4a4a" stroke-width="1"/>
<line x1="700" y1="629.5" x2="708.8" y2="629.5" stroke="#4a4a4a" stroke-width="1"/>
<line x1="704.5" y1="467.4" x2="704.5" y2="528.4" stroke="#4a4a4a" stroke-width="1"/>
<line x1="704.5" y1="565.6" x2="704.5" y2="629.4" stroke="#4a4a4a" stroke-width="1"/>
<path d="M704.6 467.9 L702.2 477.4 L707.0 477.4Z" fill="#222"/>
<path d="M704.6 628.9 L702.2 619.4 L707.0 619.4Z" fill="#222"/>
<text x="0" y="0" transform="translate(704.60 546.30) rotate(-90)" text-anchor="middle" dominant-baseline="central" font-size="17" letter-spacing="0.3" fill="#222">151</text>
<line x1="716.5" y1="662" x2="716.5" y2="670" stroke="#4a4a4a" stroke-width="1"/>
<line x1="834.5" y1="662" x2="834.5" y2="670" stroke="#4a4a4a" stroke-width="1"/>
<line x1="716.7" y1="666.5" x2="834" y2="666.5" stroke="#4a4a4a" stroke-width="1"/>
<path d="M717.2 666.5 L725.7 664.4 L725.7 668.6Z" fill="#222"/>
<path d="M833.5 666.5 L825.0 664.4 L825.0 668.6Z" fill="#222"/>
<text x="774.60" y="673.25" text-anchor="middle" dominant-baseline="central" font-size="15.2" letter-spacing="1.5" fill="#222">108</text>
<path d="M747.3 755.3 L747.3 744.2 Q747.3 741.2 750.3 741.2 L824.8 741.2 Q827.8 741.2 827.8 744.2 L827.8 755.3" fill="#fff" stroke="#4a4a4a" stroke-width="1"/>
<rect x="755.5" y="746.4" width="12.5" height="3.6000000000000227" rx="1.8000000000000114" fill="none" stroke="#4a4a4a" stroke-width="1"/>
<rect x="805.4" y="746.4" width="12.700000000000045" height="3.6000000000000227" rx="1.8000000000000114" fill="none" stroke="#4a4a4a" stroke-width="1"/>
<path d="M784.1999999999999 748.73 L784.1999999999999 746.0 A2.6 2.6 0 0 1 789.4 746.0 L789.4 748.73 A4.6 3.6 0 1 1 784.1999999999999 748.73Z" fill="#fff" stroke="#4a4a4a" stroke-width="1"/>
<line x1="774.9" y1="746.4" x2="774.9" y2="755.3" stroke="#333" stroke-width="1.2"/>
<line x1="798" y1="746.4" x2="798" y2="755.3" stroke="#333" stroke-width="1.2"/>
<rect x="734.6" y="755.3" width="106.29999999999995" height="9.0" rx="1.5" fill="#fff" stroke="#4a4a4a" stroke-width="1"/>
<line x1="742.5" y1="755.3" x2="742.5" y2="764.3" stroke="#4a4a4a" stroke-width="1"/>
<line x1="834.5" y1="755.3" x2="834.5" y2="764.3" stroke="#4a4a4a" stroke-width="1"/>
<line x1="736.3" y1="765.0" x2="838.5" y2="765.0" stroke="#666" stroke-width="1.2"/>
<line x1="737.3" y1="765.8" x2="737.3" y2="931.6" stroke="#4a4a4a" stroke-width="1"/>
<line x1="837.5" y1="765.8" x2="837.5" y2="931.6" stroke="#4a4a4a" stroke-width="1"/>
<line x1="773.5" y1="765.8" x2="773.5" y2="931.6" stroke="#555" stroke-width="1"/>
<line x1="778.18" y1="765.8" x2="778.18" y2="931.6" stroke="#8a8a8a" stroke-width="1.3"/>
<line x1="782.5" y1="765.8" x2="782.5" y2="931.6" stroke="#555" stroke-width="1"/>
<line x1="786.95" y1="765.8" x2="786.95" y2="931.6" stroke="#8a8a8a" stroke-width="1.3"/>
<line x1="791.5" y1="765.8" x2="791.5" y2="931.6" stroke="#555" stroke-width="1"/>
<line x1="795.72" y1="765.8" x2="795.72" y2="931.6" stroke="#8a8a8a" stroke-width="1.3"/>
<line x1="800.5" y1="765.8" x2="800.5" y2="931.6" stroke="#555" stroke-width="1"/>
<line x1="804.49" y1="765.8" x2="804.49" y2="931.6" stroke="#8a8a8a" stroke-width="1.3"/>
<line x1="808.5" y1="765.8" x2="808.5" y2="931.6" stroke="#555" stroke-width="1"/>
<line x1="813.26" y1="765.8" x2="813.26" y2="931.6" stroke="#8a8a8a" stroke-width="1.3"/>
<line x1="817.5" y1="765.8" x2="817.5" y2="931.6" stroke="#555" stroke-width="1"/>
<line x1="822.03" y1="765.8" x2="822.03" y2="931.6" stroke="#8a8a8a" stroke-width="1.3"/>
<line x1="826.5" y1="765.8" x2="826.5" y2="931.6" stroke="#555" stroke-width="1"/>
<line x1="830.8" y1="765.8" x2="830.8" y2="931.6" stroke="#8a8a8a" stroke-width="1.3"/>
<rect x="734.6" y="931.6" width="105.39999999999998" height="24.299999999999955" rx="1.2" fill="#fff" stroke="#5a5a5a" stroke-width="1.3"/>
<path d="M746.5 955.9 L746.5 935.6 L827.8 935.6 L827.8 955.9" fill="none" stroke="#4a4a4a" stroke-width="1"/>
<line x1="721" y1="766.5" x2="732.4" y2="766.5" stroke="#4a4a4a" stroke-width="1"/>
<line x1="721" y1="931.5" x2="732.4" y2="931.5" stroke="#4a4a4a" stroke-width="1"/>
<line x1="724.5" y1="766" x2="724.5" y2="838.3" stroke="#4a4a4a" stroke-width="1"/>
<line x1="724.5" y1="877.2" x2="724.5" y2="931.6" stroke="#4a4a4a" stroke-width="1"/>
<path d="M724.5 766.5 L722.1 776.0 L726.9 776.0Z" fill="#222"/>
<path d="M724.5 931.1 L722.1 921.6 L726.9 921.6Z" fill="#222"/>
<text x="0" y="0" transform="translate(724.20 857.10) rotate(-90)" text-anchor="middle" dominant-baseline="central" font-size="16" letter-spacing="0.8" fill="#222">173</text>
<line x1="734.5" y1="963" x2="734.5" y2="969.6" stroke="#4a4a4a" stroke-width="1"/>
<line x1="840.5" y1="963" x2="840.5" y2="969.6" stroke="#4a4a4a" stroke-width="1"/>
<line x1="734.6" y1="967.5" x2="840" y2="967.5" stroke="#4a4a4a" stroke-width="1"/>
<path d="M735.1 967.1 L743.6 965.0 L743.6 969.2Z" fill="#222"/>
<path d="M839.5 967.1 L831.0 965.0 L831.0 969.2Z" fill="#222"/>
<text x="782.10" y="972.40" text-anchor="middle" dominant-baseline="central" font-size="14.3" letter-spacing="0.4" fill="#222">108</text>
</svg>
</body></html>
